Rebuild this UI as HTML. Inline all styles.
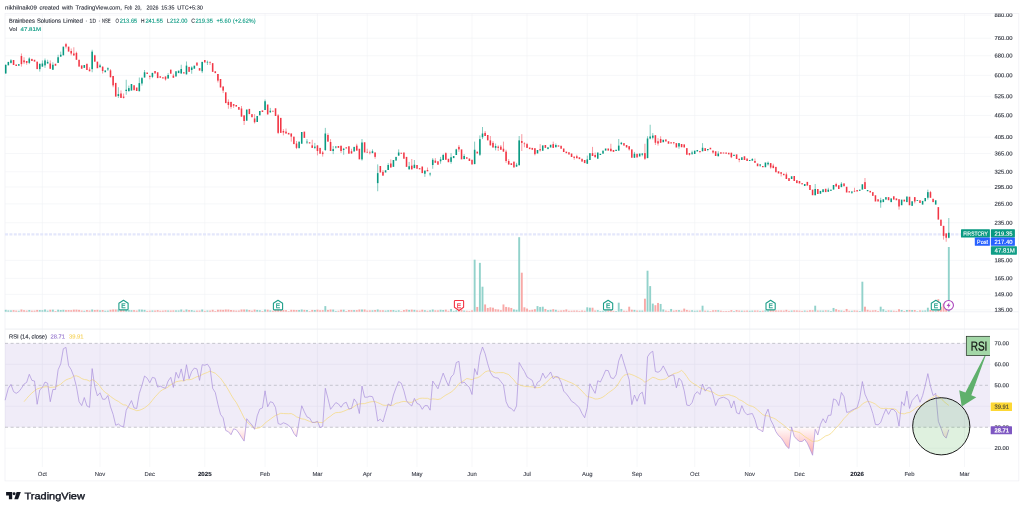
<!DOCTYPE html>
<html lang="en"><head><meta charset="utf-8"><title>Brainbees Solutions Limited chart</title>
<style>html,body{margin:0;padding:0;background:#fff;overflow:hidden}svg{display:block}</style></head>
<body>
<svg width="1024" height="511" viewBox="0 0 1024 511" font-family='"Liberation Sans", Arial, sans-serif' text-rendering="geometricPrecision">
<rect width="1024" height="511" fill="#fff"/>
<defs>
<clipPath id="cpPlot"><rect x="5.0" y="13.4" width="985.0" height="467.5"/></clipPath>
<clipPath id="cpFrame"><rect x="5.0" y="13.4" width="1013.8" height="467.5"/></clipPath>
<linearGradient id="pinkg" x1="0" y1="427.3" x2="0" y2="470" gradientUnits="userSpaceOnUse"><stop offset="0" stop-color="#ff5252" stop-opacity="0.02"/><stop offset="1" stop-color="#ff5252" stop-opacity="0.75"/></linearGradient>
</defs>
<text x="5.00" y="9.40" font-size="5.8" fill="#2a2e39" stroke="#2a2e39" stroke-width="0.12" textLength="31.90" lengthAdjust="spacingAndGlyphs" transform="rotate(0.04 5.00 9.40)">nikhilnaik09</text>
<text x="39.40" y="9.40" font-size="5.8" fill="#2a2e39" stroke="#2a2e39" stroke-width="0.12" textLength="20.00" lengthAdjust="spacingAndGlyphs" transform="rotate(0.04 39.40 9.40)">created</text>
<text x="62.10" y="9.40" font-size="5.8" fill="#2a2e39" stroke="#2a2e39" stroke-width="0.12" textLength="10.80" lengthAdjust="spacingAndGlyphs" transform="rotate(0.04 62.10 9.40)">with</text>
<text x="75.60" y="9.40" font-size="5.8" fill="#2a2e39" stroke="#2a2e39" stroke-width="0.12" textLength="46.30" lengthAdjust="spacingAndGlyphs" transform="rotate(0.04 75.60 9.40)">TradingView.com,</text>
<text x="124.50" y="9.40" font-size="5.8" fill="#2a2e39" stroke="#2a2e39" stroke-width="0.12" textLength="7.75" lengthAdjust="spacingAndGlyphs" transform="rotate(0.04 124.50 9.40)">Feb</text>
<text x="134.75" y="9.40" font-size="5.8" fill="#2a2e39" stroke="#2a2e39" stroke-width="0.12" textLength="6.85" lengthAdjust="spacingAndGlyphs" transform="rotate(0.04 134.75 9.40)">20,</text>
<text x="146.60" y="9.40" font-size="5.8" fill="#2a2e39" stroke="#2a2e39" stroke-width="0.12" textLength="11.90" lengthAdjust="spacingAndGlyphs" transform="rotate(0.04 146.60 9.40)">2026</text>
<text x="161.25" y="9.40" font-size="5.8" fill="#2a2e39" stroke="#2a2e39" stroke-width="0.12" textLength="13.25" lengthAdjust="spacingAndGlyphs" transform="rotate(0.04 161.25 9.40)">15:35</text>
<text x="177.25" y="9.40" font-size="5.8" fill="#2a2e39" stroke="#2a2e39" stroke-width="0.12" textLength="25.65" lengthAdjust="spacingAndGlyphs" transform="rotate(0.04 177.25 9.40)">UTC+5:30</text>
<rect x="5.0" y="13.4" width="1013.8" height="467.5" fill="#fff" stroke="#f0f1f5" stroke-width="0.8"/>
<line x1="42.39" y1="13.4" x2="42.39" y2="467" stroke="#f0f1f5" stroke-width="0.6"/>
<line x1="100.02" y1="13.4" x2="100.02" y2="467" stroke="#f0f1f5" stroke-width="0.6"/>
<line x1="149.80" y1="13.4" x2="149.80" y2="467" stroke="#f0f1f5" stroke-width="0.6"/>
<line x1="204.81" y1="13.4" x2="204.81" y2="467" stroke="#f0f1f5" stroke-width="0.6"/>
<line x1="265.06" y1="13.4" x2="265.06" y2="467" stroke="#f0f1f5" stroke-width="0.6"/>
<line x1="317.46" y1="13.4" x2="317.46" y2="467" stroke="#f0f1f5" stroke-width="0.6"/>
<line x1="367.23" y1="13.4" x2="367.23" y2="467" stroke="#f0f1f5" stroke-width="0.6"/>
<line x1="417.01" y1="13.4" x2="417.01" y2="467" stroke="#f0f1f5" stroke-width="0.6"/>
<line x1="472.02" y1="13.4" x2="472.02" y2="467" stroke="#f0f1f5" stroke-width="0.6"/>
<line x1="527.03" y1="13.4" x2="527.03" y2="467" stroke="#f0f1f5" stroke-width="0.6"/>
<line x1="587.29" y1="13.4" x2="587.29" y2="467" stroke="#f0f1f5" stroke-width="0.6"/>
<line x1="637.06" y1="13.4" x2="637.06" y2="467" stroke="#f0f1f5" stroke-width="0.6"/>
<line x1="694.70" y1="13.4" x2="694.70" y2="467" stroke="#f0f1f5" stroke-width="0.6"/>
<line x1="749.71" y1="13.4" x2="749.71" y2="467" stroke="#f0f1f5" stroke-width="0.6"/>
<line x1="799.48" y1="13.4" x2="799.48" y2="467" stroke="#f0f1f5" stroke-width="0.6"/>
<line x1="857.12" y1="13.4" x2="857.12" y2="467" stroke="#f0f1f5" stroke-width="0.6"/>
<line x1="909.51" y1="13.4" x2="909.51" y2="467" stroke="#f0f1f5" stroke-width="0.6"/>
<line x1="964.52" y1="13.4" x2="964.52" y2="467" stroke="#f0f1f5" stroke-width="0.6"/>
<line x1="5.0" y1="15.15" x2="991.0" y2="15.15" stroke="#f0f1f5" stroke-width="0.6"/>
<line x1="5.0" y1="38.20" x2="991.0" y2="38.20" stroke="#f0f1f5" stroke-width="0.6"/>
<line x1="5.0" y1="55.69" x2="991.0" y2="55.69" stroke="#f0f1f5" stroke-width="0.6"/>
<line x1="5.0" y1="75.37" x2="991.0" y2="75.37" stroke="#f0f1f5" stroke-width="0.6"/>
<line x1="5.0" y1="96.37" x2="991.0" y2="96.37" stroke="#f0f1f5" stroke-width="0.6"/>
<line x1="5.0" y1="115.45" x2="991.0" y2="115.45" stroke="#f0f1f5" stroke-width="0.6"/>
<line x1="5.0" y1="137.17" x2="991.0" y2="137.17" stroke="#f0f1f5" stroke-width="0.6"/>
<line x1="5.0" y1="153.52" x2="991.0" y2="153.52" stroke="#f0f1f5" stroke-width="0.6"/>
<line x1="5.0" y1="171.77" x2="991.0" y2="171.77" stroke="#f0f1f5" stroke-width="0.6"/>
<line x1="5.0" y1="187.00" x2="991.0" y2="187.00" stroke="#f0f1f5" stroke-width="0.6"/>
<line x1="5.0" y1="203.87" x2="991.0" y2="203.87" stroke="#f0f1f5" stroke-width="0.6"/>
<line x1="5.0" y1="222.76" x2="991.0" y2="222.76" stroke="#f0f1f5" stroke-width="0.6"/>
<line x1="5.0" y1="260.37" x2="991.0" y2="260.37" stroke="#f0f1f5" stroke-width="0.6"/>
<line x1="5.0" y1="278.36" x2="991.0" y2="278.36" stroke="#f0f1f5" stroke-width="0.6"/>
<line x1="5.0" y1="294.40" x2="991.0" y2="294.40" stroke="#f0f1f5" stroke-width="0.6"/>
<line x1="5.0" y1="309.92" x2="991.0" y2="309.92" stroke="#f0f1f5" stroke-width="0.6"/>
<line x1="5.0" y1="364.33" x2="991.0" y2="364.33" stroke="#f0f1f5" stroke-width="0.6"/>
<line x1="5.0" y1="406.28" x2="991.0" y2="406.28" stroke="#f0f1f5" stroke-width="0.6"/>
<line x1="5.0" y1="448.23" x2="991.0" y2="448.23" stroke="#f0f1f5" stroke-width="0.6"/>
<rect x="5.0" y="343.35" width="985.0" height="83.90" fill="#7e57c2" fill-opacity="0.115"/>
<line x1="5.0" y1="311.8" x2="1018.8" y2="311.8" stroke="#e9ebf0" stroke-width="0.7"/>
<line x1="5.0" y1="329.1" x2="1018.8" y2="329.1" stroke="#eceef2" stroke-width="1"/>
<line x1="5.0" y1="234.4" x2="961" y2="234.4" stroke="#e4e7fb" stroke-width="2.2" stroke-dasharray="3 1.4"/>
<rect x="4.76" y="309.81" width="1.9" height="1.89" fill="#92d2cb"/>
<rect x="7.38" y="310.36" width="1.9" height="1.34" fill="#92d2cb"/>
<rect x="10.00" y="310.41" width="1.9" height="1.29" fill="#92d2cb"/>
<rect x="12.62" y="310.15" width="1.9" height="1.55" fill="#f8a9a7"/>
<rect x="15.24" y="310.57" width="1.9" height="1.13" fill="#f8a9a7"/>
<rect x="17.86" y="310.79" width="1.9" height="0.91" fill="#92d2cb"/>
<rect x="20.48" y="309.50" width="1.9" height="2.20" fill="#f8a9a7"/>
<rect x="23.10" y="310.21" width="1.9" height="1.49" fill="#f8a9a7"/>
<rect x="25.72" y="310.60" width="1.9" height="1.10" fill="#f8a9a7"/>
<rect x="28.34" y="309.98" width="1.9" height="1.72" fill="#92d2cb"/>
<rect x="30.96" y="310.64" width="1.9" height="1.06" fill="#f8a9a7"/>
<rect x="33.58" y="310.61" width="1.9" height="1.09" fill="#f8a9a7"/>
<rect x="36.20" y="309.94" width="1.9" height="1.76" fill="#f8a9a7"/>
<rect x="38.82" y="310.05" width="1.9" height="1.65" fill="#92d2cb"/>
<rect x="41.44" y="310.19" width="1.9" height="1.51" fill="#92d2cb"/>
<rect x="44.06" y="309.50" width="1.9" height="2.20" fill="#92d2cb"/>
<rect x="46.68" y="310.63" width="1.9" height="1.07" fill="#92d2cb"/>
<rect x="49.30" y="309.76" width="1.9" height="1.94" fill="#f8a9a7"/>
<rect x="51.92" y="309.64" width="1.9" height="2.06" fill="#92d2cb"/>
<rect x="54.54" y="311.02" width="1.9" height="0.68" fill="#f8a9a7"/>
<rect x="57.16" y="309.72" width="1.9" height="1.98" fill="#92d2cb"/>
<rect x="59.78" y="310.03" width="1.9" height="1.67" fill="#92d2cb"/>
<rect x="62.40" y="309.82" width="1.9" height="1.88" fill="#92d2cb"/>
<rect x="65.02" y="310.15" width="1.9" height="1.55" fill="#f8a9a7"/>
<rect x="67.64" y="310.05" width="1.9" height="1.65" fill="#f8a9a7"/>
<rect x="70.26" y="310.18" width="1.9" height="1.52" fill="#f8a9a7"/>
<rect x="72.88" y="309.66" width="1.9" height="2.04" fill="#f8a9a7"/>
<rect x="75.50" y="309.64" width="1.9" height="2.06" fill="#f8a9a7"/>
<rect x="78.12" y="309.88" width="1.9" height="1.82" fill="#f8a9a7"/>
<rect x="80.74" y="310.55" width="1.9" height="1.15" fill="#f8a9a7"/>
<rect x="83.35" y="310.78" width="1.9" height="0.92" fill="#92d2cb"/>
<rect x="85.97" y="310.08" width="1.9" height="1.62" fill="#f8a9a7"/>
<rect x="88.59" y="310.51" width="1.9" height="1.19" fill="#f8a9a7"/>
<rect x="91.21" y="309.50" width="1.9" height="2.20" fill="#92d2cb"/>
<rect x="93.83" y="310.05" width="1.9" height="1.65" fill="#f8a9a7"/>
<rect x="96.45" y="309.83" width="1.9" height="1.87" fill="#f8a9a7"/>
<rect x="99.07" y="310.37" width="1.9" height="1.33" fill="#92d2cb"/>
<rect x="101.69" y="310.08" width="1.9" height="1.62" fill="#f8a9a7"/>
<rect x="104.31" y="310.74" width="1.9" height="0.96" fill="#92d2cb"/>
<rect x="106.93" y="310.60" width="1.9" height="1.10" fill="#92d2cb"/>
<rect x="109.55" y="309.80" width="1.9" height="1.90" fill="#f8a9a7"/>
<rect x="112.17" y="309.50" width="1.9" height="2.20" fill="#f8a9a7"/>
<rect x="114.79" y="309.50" width="1.9" height="2.20" fill="#f8a9a7"/>
<rect x="117.41" y="309.50" width="1.9" height="2.20" fill="#92d2cb"/>
<rect x="120.03" y="309.90" width="1.9" height="1.80" fill="#f8a9a7"/>
<rect x="122.65" y="310.15" width="1.9" height="1.55" fill="#f8a9a7"/>
<rect x="125.27" y="309.50" width="1.9" height="2.20" fill="#92d2cb"/>
<rect x="127.89" y="309.95" width="1.9" height="1.75" fill="#92d2cb"/>
<rect x="130.51" y="310.19" width="1.9" height="1.51" fill="#92d2cb"/>
<rect x="133.13" y="310.14" width="1.9" height="1.56" fill="#f8a9a7"/>
<rect x="135.75" y="310.56" width="1.9" height="1.14" fill="#f8a9a7"/>
<rect x="138.37" y="309.50" width="1.9" height="2.20" fill="#92d2cb"/>
<rect x="140.99" y="309.60" width="1.9" height="2.10" fill="#92d2cb"/>
<rect x="143.61" y="309.86" width="1.9" height="1.84" fill="#92d2cb"/>
<rect x="146.23" y="310.88" width="1.9" height="0.82" fill="#f8a9a7"/>
<rect x="148.85" y="310.65" width="1.9" height="1.05" fill="#f8a9a7"/>
<rect x="151.47" y="310.46" width="1.9" height="1.24" fill="#92d2cb"/>
<rect x="154.09" y="310.56" width="1.9" height="1.14" fill="#f8a9a7"/>
<rect x="156.71" y="310.12" width="1.9" height="1.58" fill="#f8a9a7"/>
<rect x="159.33" y="310.73" width="1.9" height="0.97" fill="#f8a9a7"/>
<rect x="161.95" y="310.62" width="1.9" height="1.08" fill="#f8a9a7"/>
<rect x="164.57" y="310.31" width="1.9" height="1.39" fill="#f8a9a7"/>
<rect x="167.19" y="310.46" width="1.9" height="1.24" fill="#92d2cb"/>
<rect x="169.81" y="310.52" width="1.9" height="1.18" fill="#f8a9a7"/>
<rect x="172.42" y="310.38" width="1.9" height="1.32" fill="#f8a9a7"/>
<rect x="175.04" y="310.38" width="1.9" height="1.32" fill="#92d2cb"/>
<rect x="177.66" y="310.42" width="1.9" height="1.28" fill="#92d2cb"/>
<rect x="180.28" y="309.50" width="1.9" height="2.20" fill="#92d2cb"/>
<rect x="182.90" y="310.68" width="1.9" height="1.02" fill="#f8a9a7"/>
<rect x="185.52" y="309.50" width="1.9" height="2.20" fill="#92d2cb"/>
<rect x="188.14" y="310.09" width="1.9" height="1.61" fill="#f8a9a7"/>
<rect x="190.76" y="310.08" width="1.9" height="1.62" fill="#92d2cb"/>
<rect x="193.38" y="310.68" width="1.9" height="1.02" fill="#92d2cb"/>
<rect x="196.00" y="310.60" width="1.9" height="1.10" fill="#f8a9a7"/>
<rect x="198.62" y="310.54" width="1.9" height="1.16" fill="#f8a9a7"/>
<rect x="201.24" y="309.50" width="1.9" height="2.20" fill="#92d2cb"/>
<rect x="203.86" y="310.87" width="1.9" height="0.83" fill="#f8a9a7"/>
<rect x="206.48" y="310.46" width="1.9" height="1.24" fill="#92d2cb"/>
<rect x="209.10" y="310.57" width="1.9" height="1.13" fill="#f8a9a7"/>
<rect x="211.72" y="309.78" width="1.9" height="1.92" fill="#f8a9a7"/>
<rect x="214.34" y="310.96" width="1.9" height="0.74" fill="#f8a9a7"/>
<rect x="216.96" y="309.76" width="1.9" height="1.94" fill="#f8a9a7"/>
<rect x="219.58" y="309.74" width="1.9" height="1.96" fill="#f8a9a7"/>
<rect x="222.20" y="309.86" width="1.9" height="1.84" fill="#f8a9a7"/>
<rect x="224.82" y="309.50" width="1.9" height="2.20" fill="#f8a9a7"/>
<rect x="227.44" y="309.56" width="1.9" height="2.14" fill="#f8a9a7"/>
<rect x="230.06" y="310.00" width="1.9" height="1.70" fill="#f8a9a7"/>
<rect x="232.68" y="310.32" width="1.9" height="1.38" fill="#f8a9a7"/>
<rect x="235.30" y="310.60" width="1.9" height="1.10" fill="#f8a9a7"/>
<rect x="237.92" y="310.54" width="1.9" height="1.16" fill="#f8a9a7"/>
<rect x="240.54" y="309.50" width="1.9" height="2.20" fill="#f8a9a7"/>
<rect x="243.16" y="309.50" width="1.9" height="2.20" fill="#f8a9a7"/>
<rect x="245.78" y="309.53" width="1.9" height="2.17" fill="#92d2cb"/>
<rect x="248.40" y="310.03" width="1.9" height="1.67" fill="#f8a9a7"/>
<rect x="251.02" y="310.70" width="1.9" height="1.00" fill="#f8a9a7"/>
<rect x="253.64" y="309.59" width="1.9" height="2.11" fill="#f8a9a7"/>
<rect x="256.26" y="309.95" width="1.9" height="1.75" fill="#92d2cb"/>
<rect x="258.87" y="310.26" width="1.9" height="1.44" fill="#92d2cb"/>
<rect x="261.49" y="311.01" width="1.9" height="0.69" fill="#f8a9a7"/>
<rect x="264.11" y="309.50" width="1.9" height="2.20" fill="#92d2cb"/>
<rect x="266.73" y="309.71" width="1.9" height="1.99" fill="#f8a9a7"/>
<rect x="269.35" y="310.35" width="1.9" height="1.35" fill="#92d2cb"/>
<rect x="271.97" y="310.76" width="1.9" height="0.94" fill="#f8a9a7"/>
<rect x="274.59" y="309.87" width="1.9" height="1.83" fill="#f8a9a7"/>
<rect x="277.21" y="309.50" width="1.9" height="2.20" fill="#f8a9a7"/>
<rect x="279.83" y="309.50" width="1.9" height="2.20" fill="#f8a9a7"/>
<rect x="282.45" y="309.90" width="1.9" height="1.80" fill="#f8a9a7"/>
<rect x="285.07" y="310.13" width="1.9" height="1.57" fill="#f8a9a7"/>
<rect x="287.69" y="311.09" width="1.9" height="0.61" fill="#f8a9a7"/>
<rect x="290.31" y="309.82" width="1.9" height="1.88" fill="#f8a9a7"/>
<rect x="292.93" y="309.90" width="1.9" height="1.80" fill="#f8a9a7"/>
<rect x="295.55" y="310.02" width="1.9" height="1.68" fill="#f8a9a7"/>
<rect x="298.17" y="309.99" width="1.9" height="1.71" fill="#92d2cb"/>
<rect x="300.79" y="309.50" width="1.9" height="2.20" fill="#92d2cb"/>
<rect x="303.41" y="309.89" width="1.9" height="1.81" fill="#f8a9a7"/>
<rect x="306.03" y="310.03" width="1.9" height="1.67" fill="#92d2cb"/>
<rect x="308.65" y="311.08" width="1.9" height="0.62" fill="#f8a9a7"/>
<rect x="311.27" y="309.92" width="1.9" height="1.78" fill="#f8a9a7"/>
<rect x="313.89" y="309.99" width="1.9" height="1.71" fill="#92d2cb"/>
<rect x="316.51" y="309.68" width="1.9" height="2.02" fill="#f8a9a7"/>
<rect x="319.13" y="310.29" width="1.9" height="1.41" fill="#f8a9a7"/>
<rect x="321.75" y="310.13" width="1.9" height="1.57" fill="#f8a9a7"/>
<rect x="324.37" y="306.10" width="1.9" height="5.60" fill="#92d2cb"/>
<rect x="326.99" y="309.92" width="1.9" height="1.78" fill="#f8a9a7"/>
<rect x="329.61" y="309.50" width="1.9" height="2.20" fill="#f8a9a7"/>
<rect x="332.23" y="309.58" width="1.9" height="2.12" fill="#92d2cb"/>
<rect x="334.85" y="310.93" width="1.9" height="0.77" fill="#92d2cb"/>
<rect x="337.47" y="310.76" width="1.9" height="0.94" fill="#f8a9a7"/>
<rect x="340.09" y="309.77" width="1.9" height="1.93" fill="#f8a9a7"/>
<rect x="342.71" y="309.71" width="1.9" height="1.99" fill="#92d2cb"/>
<rect x="345.32" y="311.00" width="1.9" height="0.70" fill="#f8a9a7"/>
<rect x="347.94" y="310.06" width="1.9" height="1.64" fill="#f8a9a7"/>
<rect x="350.56" y="310.11" width="1.9" height="1.59" fill="#f8a9a7"/>
<rect x="353.18" y="310.11" width="1.9" height="1.59" fill="#92d2cb"/>
<rect x="355.80" y="310.14" width="1.9" height="1.56" fill="#f8a9a7"/>
<rect x="358.42" y="309.50" width="1.9" height="2.20" fill="#f8a9a7"/>
<rect x="361.04" y="309.50" width="1.9" height="2.20" fill="#92d2cb"/>
<rect x="363.66" y="309.50" width="1.9" height="2.20" fill="#f8a9a7"/>
<rect x="366.28" y="310.56" width="1.9" height="1.14" fill="#f8a9a7"/>
<rect x="368.90" y="310.38" width="1.9" height="1.32" fill="#f8a9a7"/>
<rect x="371.52" y="310.31" width="1.9" height="1.39" fill="#92d2cb"/>
<rect x="374.14" y="310.05" width="1.9" height="1.65" fill="#f8a9a7"/>
<rect x="376.76" y="309.50" width="1.9" height="2.20" fill="#92d2cb"/>
<rect x="379.38" y="310.29" width="1.9" height="1.41" fill="#f8a9a7"/>
<rect x="382.00" y="310.30" width="1.9" height="1.40" fill="#f8a9a7"/>
<rect x="384.62" y="310.55" width="1.9" height="1.15" fill="#92d2cb"/>
<rect x="387.24" y="310.23" width="1.9" height="1.47" fill="#92d2cb"/>
<rect x="389.86" y="310.05" width="1.9" height="1.65" fill="#f8a9a7"/>
<rect x="392.48" y="310.05" width="1.9" height="1.65" fill="#92d2cb"/>
<rect x="395.10" y="310.72" width="1.9" height="0.98" fill="#92d2cb"/>
<rect x="397.72" y="310.27" width="1.9" height="1.43" fill="#92d2cb"/>
<rect x="400.34" y="311.18" width="1.9" height="0.52" fill="#f8a9a7"/>
<rect x="402.96" y="310.06" width="1.9" height="1.64" fill="#f8a9a7"/>
<rect x="405.58" y="309.50" width="1.9" height="2.20" fill="#f8a9a7"/>
<rect x="408.20" y="309.92" width="1.9" height="1.78" fill="#92d2cb"/>
<rect x="410.82" y="309.62" width="1.9" height="2.08" fill="#f8a9a7"/>
<rect x="413.44" y="309.87" width="1.9" height="1.83" fill="#92d2cb"/>
<rect x="416.06" y="310.43" width="1.9" height="1.27" fill="#f8a9a7"/>
<rect x="418.68" y="310.63" width="1.9" height="1.07" fill="#f8a9a7"/>
<rect x="421.30" y="309.74" width="1.9" height="1.96" fill="#f8a9a7"/>
<rect x="423.92" y="310.22" width="1.9" height="1.48" fill="#92d2cb"/>
<rect x="426.54" y="310.74" width="1.9" height="0.96" fill="#f8a9a7"/>
<rect x="429.16" y="310.29" width="1.9" height="1.41" fill="#92d2cb"/>
<rect x="431.78" y="309.50" width="1.9" height="2.20" fill="#92d2cb"/>
<rect x="434.39" y="310.36" width="1.9" height="1.34" fill="#f8a9a7"/>
<rect x="437.01" y="310.37" width="1.9" height="1.33" fill="#f8a9a7"/>
<rect x="439.63" y="309.77" width="1.9" height="1.93" fill="#92d2cb"/>
<rect x="442.25" y="310.01" width="1.9" height="1.69" fill="#92d2cb"/>
<rect x="444.87" y="309.67" width="1.9" height="2.03" fill="#f8a9a7"/>
<rect x="447.49" y="310.78" width="1.9" height="0.92" fill="#f8a9a7"/>
<rect x="450.11" y="308.95" width="1.9" height="2.75" fill="#92d2cb"/>
<rect x="452.73" y="310.86" width="1.9" height="0.84" fill="#92d2cb"/>
<rect x="455.35" y="310.20" width="1.9" height="1.50" fill="#92d2cb"/>
<rect x="457.97" y="310.18" width="1.9" height="1.52" fill="#f8a9a7"/>
<rect x="460.59" y="309.50" width="1.9" height="2.20" fill="#f8a9a7"/>
<rect x="463.21" y="310.53" width="1.9" height="1.17" fill="#92d2cb"/>
<rect x="465.83" y="310.74" width="1.9" height="0.96" fill="#f8a9a7"/>
<rect x="468.45" y="310.91" width="1.9" height="0.79" fill="#f8a9a7"/>
<rect x="471.07" y="310.39" width="1.9" height="1.31" fill="#f8a9a7"/>
<rect x="473.69" y="259.70" width="1.9" height="52.00" fill="#92d2cb"/>
<rect x="476.31" y="306.95" width="1.9" height="4.75" fill="#f8a9a7"/>
<rect x="478.93" y="262.85" width="1.9" height="48.85" fill="#92d2cb"/>
<rect x="481.55" y="286.70" width="1.9" height="25.00" fill="#92d2cb"/>
<rect x="484.17" y="304.45" width="1.9" height="7.25" fill="#f8a9a7"/>
<rect x="486.79" y="307.95" width="1.9" height="3.75" fill="#f8a9a7"/>
<rect x="489.41" y="307.30" width="1.9" height="4.40" fill="#f8a9a7"/>
<rect x="492.03" y="307.70" width="1.9" height="4.00" fill="#f8a9a7"/>
<rect x="494.65" y="309.20" width="1.9" height="2.50" fill="#f8a9a7"/>
<rect x="497.27" y="309.45" width="1.9" height="2.25" fill="#f8a9a7"/>
<rect x="499.89" y="310.20" width="1.9" height="1.50" fill="#f8a9a7"/>
<rect x="502.51" y="304.45" width="1.9" height="7.25" fill="#f8a9a7"/>
<rect x="505.13" y="306.95" width="1.9" height="4.75" fill="#f8a9a7"/>
<rect x="507.75" y="307.30" width="1.9" height="4.40" fill="#f8a9a7"/>
<rect x="510.37" y="307.95" width="1.9" height="3.75" fill="#f8a9a7"/>
<rect x="512.99" y="309.45" width="1.9" height="2.25" fill="#92d2cb"/>
<rect x="515.61" y="309.80" width="1.9" height="1.90" fill="#92d2cb"/>
<rect x="518.23" y="237.20" width="1.9" height="74.50" fill="#92d2cb"/>
<rect x="520.84" y="272.70" width="1.9" height="39.00" fill="#f8a9a7"/>
<rect x="523.46" y="307.30" width="1.9" height="4.40" fill="#f8a9a7"/>
<rect x="526.08" y="308.60" width="1.9" height="3.10" fill="#f8a9a7"/>
<rect x="528.70" y="310.20" width="1.9" height="1.50" fill="#f8a9a7"/>
<rect x="531.32" y="309.80" width="1.9" height="1.90" fill="#f8a9a7"/>
<rect x="533.94" y="309.20" width="1.9" height="2.50" fill="#f8a9a7"/>
<rect x="536.56" y="306.10" width="1.9" height="5.60" fill="#92d2cb"/>
<rect x="539.18" y="306.95" width="1.9" height="4.75" fill="#92d2cb"/>
<rect x="541.80" y="306.70" width="1.9" height="5.00" fill="#92d2cb"/>
<rect x="544.42" y="308.95" width="1.9" height="2.75" fill="#f8a9a7"/>
<rect x="547.04" y="310.20" width="1.9" height="1.50" fill="#92d2cb"/>
<rect x="549.66" y="309.80" width="1.9" height="1.90" fill="#92d2cb"/>
<rect x="552.28" y="309.20" width="1.9" height="2.50" fill="#f8a9a7"/>
<rect x="554.90" y="309.80" width="1.9" height="1.90" fill="#92d2cb"/>
<rect x="557.52" y="310.70" width="1.9" height="1.00" fill="#f8a9a7"/>
<rect x="560.14" y="310.45" width="1.9" height="1.25" fill="#f8a9a7"/>
<rect x="562.76" y="310.20" width="1.9" height="1.50" fill="#f8a9a7"/>
<rect x="565.38" y="309.45" width="1.9" height="2.25" fill="#f8a9a7"/>
<rect x="568.00" y="310.76" width="1.9" height="0.94" fill="#f8a9a7"/>
<rect x="570.62" y="310.69" width="1.9" height="1.01" fill="#f8a9a7"/>
<rect x="573.24" y="310.56" width="1.9" height="1.14" fill="#f8a9a7"/>
<rect x="575.86" y="310.50" width="1.9" height="1.20" fill="#f8a9a7"/>
<rect x="578.48" y="310.88" width="1.9" height="0.82" fill="#f8a9a7"/>
<rect x="581.10" y="310.48" width="1.9" height="1.22" fill="#f8a9a7"/>
<rect x="583.72" y="310.76" width="1.9" height="0.94" fill="#f8a9a7"/>
<rect x="586.34" y="307.30" width="1.9" height="4.40" fill="#92d2cb"/>
<rect x="588.96" y="307.70" width="1.9" height="4.00" fill="#92d2cb"/>
<rect x="591.58" y="307.70" width="1.9" height="4.00" fill="#f8a9a7"/>
<rect x="594.20" y="310.48" width="1.9" height="1.22" fill="#f8a9a7"/>
<rect x="596.82" y="310.16" width="1.9" height="1.54" fill="#92d2cb"/>
<rect x="599.44" y="310.94" width="1.9" height="0.76" fill="#92d2cb"/>
<rect x="602.06" y="310.74" width="1.9" height="0.96" fill="#92d2cb"/>
<rect x="604.68" y="310.50" width="1.9" height="1.20" fill="#92d2cb"/>
<rect x="607.29" y="310.55" width="1.9" height="1.15" fill="#f8a9a7"/>
<rect x="609.91" y="310.09" width="1.9" height="1.61" fill="#f8a9a7"/>
<rect x="612.53" y="310.85" width="1.9" height="0.85" fill="#f8a9a7"/>
<rect x="615.15" y="311.02" width="1.9" height="0.68" fill="#92d2cb"/>
<rect x="617.77" y="302.70" width="1.9" height="9.00" fill="#92d2cb"/>
<rect x="620.39" y="308.95" width="1.9" height="2.75" fill="#92d2cb"/>
<rect x="623.01" y="310.70" width="1.9" height="1.00" fill="#f8a9a7"/>
<rect x="625.63" y="310.80" width="1.9" height="0.90" fill="#f8a9a7"/>
<rect x="628.25" y="306.70" width="1.9" height="5.00" fill="#f8a9a7"/>
<rect x="630.87" y="309.73" width="1.9" height="1.97" fill="#f8a9a7"/>
<rect x="633.49" y="309.90" width="1.9" height="1.80" fill="#92d2cb"/>
<rect x="636.11" y="310.54" width="1.9" height="1.16" fill="#f8a9a7"/>
<rect x="638.73" y="310.51" width="1.9" height="1.19" fill="#92d2cb"/>
<rect x="641.35" y="310.52" width="1.9" height="1.18" fill="#92d2cb"/>
<rect x="643.97" y="298.70" width="1.9" height="13.00" fill="#f8a9a7"/>
<rect x="646.59" y="270.70" width="1.9" height="41.00" fill="#92d2cb"/>
<rect x="649.21" y="286.10" width="1.9" height="25.60" fill="#92d2cb"/>
<rect x="651.83" y="303.60" width="1.9" height="8.10" fill="#92d2cb"/>
<rect x="654.45" y="305.20" width="1.9" height="6.50" fill="#f8a9a7"/>
<rect x="657.07" y="302.95" width="1.9" height="8.75" fill="#f8a9a7"/>
<rect x="659.69" y="303.95" width="1.9" height="7.75" fill="#92d2cb"/>
<rect x="662.31" y="309.45" width="1.9" height="2.25" fill="#92d2cb"/>
<rect x="664.93" y="310.60" width="1.9" height="1.10" fill="#f8a9a7"/>
<rect x="667.55" y="310.92" width="1.9" height="0.78" fill="#f8a9a7"/>
<rect x="670.17" y="308.95" width="1.9" height="2.75" fill="#92d2cb"/>
<rect x="672.79" y="310.60" width="1.9" height="1.10" fill="#f8a9a7"/>
<rect x="675.41" y="310.13" width="1.9" height="1.57" fill="#f8a9a7"/>
<rect x="678.03" y="310.12" width="1.9" height="1.58" fill="#92d2cb"/>
<rect x="680.65" y="310.67" width="1.9" height="1.03" fill="#f8a9a7"/>
<rect x="683.27" y="308.60" width="1.9" height="3.10" fill="#f8a9a7"/>
<rect x="685.89" y="309.92" width="1.9" height="1.78" fill="#f8a9a7"/>
<rect x="688.51" y="310.56" width="1.9" height="1.14" fill="#f8a9a7"/>
<rect x="691.13" y="310.29" width="1.9" height="1.41" fill="#92d2cb"/>
<rect x="693.75" y="310.73" width="1.9" height="0.97" fill="#92d2cb"/>
<rect x="696.36" y="310.57" width="1.9" height="1.13" fill="#92d2cb"/>
<rect x="698.98" y="310.48" width="1.9" height="1.22" fill="#f8a9a7"/>
<rect x="701.60" y="305.70" width="1.9" height="6.00" fill="#92d2cb"/>
<rect x="704.22" y="310.66" width="1.9" height="1.04" fill="#f8a9a7"/>
<rect x="706.84" y="310.66" width="1.9" height="1.04" fill="#92d2cb"/>
<rect x="709.46" y="311.07" width="1.9" height="0.63" fill="#f8a9a7"/>
<rect x="712.08" y="310.31" width="1.9" height="1.39" fill="#f8a9a7"/>
<rect x="714.70" y="310.14" width="1.9" height="1.56" fill="#f8a9a7"/>
<rect x="717.32" y="310.20" width="1.9" height="1.50" fill="#92d2cb"/>
<rect x="719.94" y="310.69" width="1.9" height="1.01" fill="#f8a9a7"/>
<rect x="722.56" y="311.09" width="1.9" height="0.61" fill="#f8a9a7"/>
<rect x="725.18" y="310.98" width="1.9" height="0.72" fill="#f8a9a7"/>
<rect x="727.80" y="310.95" width="1.9" height="0.75" fill="#f8a9a7"/>
<rect x="730.42" y="310.16" width="1.9" height="1.54" fill="#f8a9a7"/>
<rect x="733.04" y="311.10" width="1.9" height="0.60" fill="#92d2cb"/>
<rect x="735.66" y="310.12" width="1.9" height="1.58" fill="#f8a9a7"/>
<rect x="738.28" y="310.54" width="1.9" height="1.16" fill="#f8a9a7"/>
<rect x="740.90" y="310.67" width="1.9" height="1.03" fill="#92d2cb"/>
<rect x="743.52" y="310.69" width="1.9" height="1.01" fill="#f8a9a7"/>
<rect x="746.14" y="310.57" width="1.9" height="1.13" fill="#f8a9a7"/>
<rect x="748.76" y="310.74" width="1.9" height="0.96" fill="#92d2cb"/>
<rect x="751.38" y="310.60" width="1.9" height="1.10" fill="#92d2cb"/>
<rect x="754.00" y="310.54" width="1.9" height="1.16" fill="#f8a9a7"/>
<rect x="756.62" y="310.48" width="1.9" height="1.22" fill="#f8a9a7"/>
<rect x="759.24" y="310.87" width="1.9" height="0.83" fill="#92d2cb"/>
<rect x="761.86" y="310.69" width="1.9" height="1.01" fill="#f8a9a7"/>
<rect x="764.48" y="310.27" width="1.9" height="1.43" fill="#92d2cb"/>
<rect x="767.10" y="310.53" width="1.9" height="1.17" fill="#92d2cb"/>
<rect x="769.72" y="310.17" width="1.9" height="1.53" fill="#f8a9a7"/>
<rect x="772.34" y="310.30" width="1.9" height="1.40" fill="#f8a9a7"/>
<rect x="774.96" y="310.35" width="1.9" height="1.35" fill="#f8a9a7"/>
<rect x="777.58" y="310.52" width="1.9" height="1.18" fill="#f8a9a7"/>
<rect x="780.20" y="310.44" width="1.9" height="1.26" fill="#f8a9a7"/>
<rect x="782.81" y="310.62" width="1.9" height="1.08" fill="#f8a9a7"/>
<rect x="785.43" y="309.85" width="1.9" height="1.85" fill="#f8a9a7"/>
<rect x="788.05" y="310.84" width="1.9" height="0.86" fill="#f8a9a7"/>
<rect x="790.67" y="310.55" width="1.9" height="1.15" fill="#92d2cb"/>
<rect x="793.29" y="310.38" width="1.9" height="1.32" fill="#f8a9a7"/>
<rect x="795.91" y="310.48" width="1.9" height="1.22" fill="#f8a9a7"/>
<rect x="798.53" y="310.65" width="1.9" height="1.05" fill="#f8a9a7"/>
<rect x="801.15" y="310.90" width="1.9" height="0.80" fill="#f8a9a7"/>
<rect x="803.77" y="310.54" width="1.9" height="1.16" fill="#92d2cb"/>
<rect x="806.39" y="310.72" width="1.9" height="0.98" fill="#f8a9a7"/>
<rect x="809.01" y="310.24" width="1.9" height="1.46" fill="#f8a9a7"/>
<rect x="811.63" y="310.27" width="1.9" height="1.43" fill="#f8a9a7"/>
<rect x="814.25" y="305.70" width="1.9" height="6.00" fill="#92d2cb"/>
<rect x="816.87" y="310.53" width="1.9" height="1.17" fill="#f8a9a7"/>
<rect x="819.49" y="310.48" width="1.9" height="1.22" fill="#92d2cb"/>
<rect x="822.11" y="310.58" width="1.9" height="1.12" fill="#92d2cb"/>
<rect x="824.73" y="310.32" width="1.9" height="1.38" fill="#f8a9a7"/>
<rect x="827.35" y="310.38" width="1.9" height="1.32" fill="#92d2cb"/>
<rect x="829.97" y="310.96" width="1.9" height="0.74" fill="#92d2cb"/>
<rect x="832.59" y="307.95" width="1.9" height="3.75" fill="#92d2cb"/>
<rect x="835.21" y="309.20" width="1.9" height="2.50" fill="#f8a9a7"/>
<rect x="837.83" y="310.21" width="1.9" height="1.49" fill="#f8a9a7"/>
<rect x="840.45" y="310.49" width="1.9" height="1.21" fill="#92d2cb"/>
<rect x="843.07" y="310.86" width="1.9" height="0.84" fill="#f8a9a7"/>
<rect x="845.69" y="308.95" width="1.9" height="2.75" fill="#f8a9a7"/>
<rect x="848.31" y="310.75" width="1.9" height="0.95" fill="#f8a9a7"/>
<rect x="850.93" y="310.75" width="1.9" height="0.95" fill="#92d2cb"/>
<rect x="853.55" y="310.45" width="1.9" height="1.25" fill="#f8a9a7"/>
<rect x="856.17" y="310.63" width="1.9" height="1.07" fill="#f8a9a7"/>
<rect x="858.79" y="310.97" width="1.9" height="0.73" fill="#92d2cb"/>
<rect x="861.41" y="281.70" width="1.9" height="30.00" fill="#92d2cb"/>
<rect x="864.03" y="306.70" width="1.9" height="5.00" fill="#f8a9a7"/>
<rect x="866.65" y="309.80" width="1.9" height="1.90" fill="#f8a9a7"/>
<rect x="869.26" y="310.60" width="1.9" height="1.10" fill="#f8a9a7"/>
<rect x="871.88" y="310.40" width="1.9" height="1.30" fill="#f8a9a7"/>
<rect x="874.50" y="310.17" width="1.9" height="1.53" fill="#f8a9a7"/>
<rect x="877.12" y="310.96" width="1.9" height="0.74" fill="#f8a9a7"/>
<rect x="879.74" y="306.70" width="1.9" height="5.00" fill="#92d2cb"/>
<rect x="882.36" y="309.20" width="1.9" height="2.50" fill="#92d2cb"/>
<rect x="884.98" y="310.82" width="1.9" height="0.88" fill="#92d2cb"/>
<rect x="887.60" y="310.32" width="1.9" height="1.38" fill="#f8a9a7"/>
<rect x="890.22" y="310.53" width="1.9" height="1.17" fill="#92d2cb"/>
<rect x="892.84" y="310.72" width="1.9" height="0.98" fill="#f8a9a7"/>
<rect x="895.46" y="310.89" width="1.9" height="0.81" fill="#f8a9a7"/>
<rect x="898.08" y="309.20" width="1.9" height="2.50" fill="#f8a9a7"/>
<rect x="900.70" y="309.96" width="1.9" height="1.74" fill="#92d2cb"/>
<rect x="903.32" y="310.96" width="1.9" height="0.74" fill="#f8a9a7"/>
<rect x="905.94" y="310.02" width="1.9" height="1.68" fill="#92d2cb"/>
<rect x="908.56" y="309.92" width="1.9" height="1.78" fill="#f8a9a7"/>
<rect x="911.18" y="310.08" width="1.9" height="1.62" fill="#92d2cb"/>
<rect x="913.80" y="310.06" width="1.9" height="1.64" fill="#f8a9a7"/>
<rect x="916.42" y="311.19" width="1.9" height="0.51" fill="#92d2cb"/>
<rect x="919.04" y="310.40" width="1.9" height="1.30" fill="#f8a9a7"/>
<rect x="921.66" y="310.55" width="1.9" height="1.15" fill="#92d2cb"/>
<rect x="924.28" y="310.43" width="1.9" height="1.27" fill="#92d2cb"/>
<rect x="926.90" y="307.70" width="1.9" height="4.00" fill="#92d2cb"/>
<rect x="929.52" y="309.96" width="1.9" height="1.74" fill="#f8a9a7"/>
<rect x="932.14" y="310.76" width="1.9" height="0.94" fill="#f8a9a7"/>
<rect x="934.76" y="310.59" width="1.9" height="1.11" fill="#92d2cb"/>
<rect x="937.38" y="299.20" width="1.9" height="12.50" fill="#f8a9a7"/>
<rect x="940.00" y="306.70" width="1.9" height="5.00" fill="#f8a9a7"/>
<rect x="942.62" y="303.70" width="1.9" height="8.00" fill="#f8a9a7"/>
<rect x="945.24" y="307.70" width="1.9" height="4.00" fill="#f8a9a7"/>
<rect x="947.86" y="247.00" width="1.9" height="64.70" fill="#92d2cb"/>
<line x1="5.71" y1="64.12" x2="5.71" y2="73.50" stroke="#089981" stroke-width="0.5"/>
<rect x="4.93" y="65.00" width="1.56" height="8.50" fill="#089981"/>
<rect x="7.55" y="61.88" width="1.56" height="3.50" fill="#089981"/>
<line x1="10.95" y1="59.12" x2="10.95" y2="63.50" stroke="#089981" stroke-width="0.5"/>
<rect x="10.17" y="60.38" width="1.56" height="2.50" fill="#089981"/>
<rect x="12.79" y="60.00" width="1.56" height="5.00" fill="#f23645"/>
<rect x="15.41" y="64.50" width="1.56" height="1.50" fill="#f23645"/>
<rect x="18.03" y="64.12" width="1.56" height="1.62" fill="#089981"/>
<line x1="21.43" y1="53.50" x2="21.43" y2="66.62" stroke="#f23645" stroke-width="0.5"/>
<rect x="20.65" y="56.00" width="1.56" height="8.12" fill="#f23645"/>
<line x1="24.05" y1="57.25" x2="24.05" y2="64.12" stroke="#f23645" stroke-width="0.5"/>
<rect x="23.27" y="60.38" width="1.56" height="1.88" fill="#f23645"/>
<line x1="26.67" y1="61.00" x2="26.67" y2="64.75" stroke="#f23645" stroke-width="0.5"/>
<rect x="25.89" y="61.00" width="1.56" height="1.88" fill="#f23645"/>
<line x1="29.29" y1="57.25" x2="29.29" y2="64.12" stroke="#089981" stroke-width="0.5"/>
<rect x="28.51" y="58.50" width="1.56" height="4.38" fill="#089981"/>
<rect x="31.13" y="58.88" width="1.56" height="2.12" fill="#f23645"/>
<rect x="33.75" y="59.75" width="1.56" height="1.88" fill="#f23645"/>
<rect x="36.37" y="61.62" width="1.56" height="7.50" fill="#f23645"/>
<line x1="39.77" y1="63.75" x2="39.77" y2="71.62" stroke="#089981" stroke-width="0.5"/>
<rect x="38.99" y="63.75" width="1.56" height="5.38" fill="#089981"/>
<line x1="42.39" y1="60.38" x2="42.39" y2="66.62" stroke="#089981" stroke-width="0.5"/>
<rect x="41.61" y="63.50" width="1.56" height="3.12" fill="#089981"/>
<line x1="45.01" y1="58.50" x2="45.01" y2="67.88" stroke="#089981" stroke-width="0.5"/>
<rect x="44.23" y="60.38" width="1.56" height="5.00" fill="#089981"/>
<line x1="47.63" y1="59.75" x2="47.63" y2="63.50" stroke="#089981" stroke-width="0.5"/>
<rect x="46.85" y="61.88" width="1.56" height="1.62" fill="#089981"/>
<line x1="50.25" y1="60.38" x2="50.25" y2="68.75" stroke="#f23645" stroke-width="0.5"/>
<rect x="49.47" y="63.50" width="1.56" height="5.25" fill="#f23645"/>
<line x1="52.87" y1="62.25" x2="52.87" y2="69.75" stroke="#089981" stroke-width="0.5"/>
<rect x="52.09" y="64.75" width="1.56" height="5.00" fill="#089981"/>
<rect x="54.71" y="63.75" width="1.56" height="2.00" fill="#f23645"/>
<line x1="58.11" y1="54.75" x2="58.11" y2="62.88" stroke="#089981" stroke-width="0.5"/>
<rect x="57.33" y="57.25" width="1.56" height="5.62" fill="#089981"/>
<line x1="60.73" y1="51.62" x2="60.73" y2="56.62" stroke="#089981" stroke-width="0.5"/>
<rect x="59.95" y="54.75" width="1.56" height="1.88" fill="#089981"/>
<rect x="62.57" y="46.62" width="1.56" height="8.75" fill="#089981"/>
<line x1="65.97" y1="42.88" x2="65.97" y2="48.50" stroke="#f23645" stroke-width="0.5"/>
<rect x="65.19" y="44.12" width="1.56" height="2.50" fill="#f23645"/>
<rect x="67.81" y="46.62" width="1.56" height="5.00" fill="#f23645"/>
<line x1="71.21" y1="48.50" x2="71.21" y2="55.38" stroke="#f23645" stroke-width="0.5"/>
<rect x="70.43" y="51.00" width="1.56" height="2.50" fill="#f23645"/>
<line x1="73.83" y1="47.25" x2="73.83" y2="56.00" stroke="#f23645" stroke-width="0.5"/>
<rect x="73.05" y="53.50" width="1.56" height="1.88" fill="#f23645"/>
<line x1="76.45" y1="51.62" x2="76.45" y2="59.75" stroke="#f23645" stroke-width="0.5"/>
<rect x="75.67" y="52.88" width="1.56" height="6.88" fill="#f23645"/>
<rect x="78.29" y="59.75" width="1.56" height="6.88" fill="#f23645"/>
<rect x="80.91" y="65.38" width="1.56" height="3.38" fill="#f23645"/>
<rect x="83.52" y="65.00" width="1.56" height="2.88" fill="#089981"/>
<rect x="86.14" y="63.75" width="1.56" height="6.25" fill="#f23645"/>
<line x1="89.54" y1="67.25" x2="89.54" y2="71.25" stroke="#f23645" stroke-width="0.5"/>
<rect x="88.76" y="69.50" width="1.56" height="1.75" fill="#f23645"/>
<line x1="92.16" y1="49.75" x2="92.16" y2="72.25" stroke="#089981" stroke-width="0.5"/>
<rect x="91.38" y="51.62" width="1.56" height="17.50" fill="#089981"/>
<line x1="94.78" y1="54.75" x2="94.78" y2="61.62" stroke="#f23645" stroke-width="0.5"/>
<rect x="94.00" y="55.38" width="1.56" height="6.25" fill="#f23645"/>
<rect x="96.62" y="61.62" width="1.56" height="6.62" fill="#f23645"/>
<line x1="100.02" y1="63.75" x2="100.02" y2="67.25" stroke="#089981" stroke-width="0.5"/>
<rect x="99.24" y="65.38" width="1.56" height="1.88" fill="#089981"/>
<line x1="102.64" y1="66.62" x2="102.64" y2="73.50" stroke="#f23645" stroke-width="0.5"/>
<rect x="101.86" y="66.62" width="1.56" height="4.38" fill="#f23645"/>
<rect x="104.48" y="70.38" width="1.56" height="1.88" fill="#089981"/>
<line x1="107.88" y1="67.25" x2="107.88" y2="71.00" stroke="#089981" stroke-width="0.5"/>
<rect x="107.10" y="68.25" width="1.56" height="1.25" fill="#089981"/>
<line x1="110.50" y1="69.12" x2="110.50" y2="77.25" stroke="#f23645" stroke-width="0.5"/>
<rect x="109.72" y="70.38" width="1.56" height="6.88" fill="#f23645"/>
<line x1="113.12" y1="76.00" x2="113.12" y2="87.25" stroke="#f23645" stroke-width="0.5"/>
<rect x="112.34" y="76.00" width="1.56" height="9.38" fill="#f23645"/>
<rect x="114.96" y="82.88" width="1.56" height="13.75" fill="#f23645"/>
<line x1="118.36" y1="87.25" x2="118.36" y2="97.88" stroke="#089981" stroke-width="0.5"/>
<rect x="117.58" y="94.12" width="1.56" height="1.88" fill="#089981"/>
<line x1="120.98" y1="90.38" x2="120.98" y2="97.88" stroke="#f23645" stroke-width="0.5"/>
<rect x="120.20" y="93.50" width="1.56" height="4.38" fill="#f23645"/>
<line x1="123.60" y1="93.50" x2="123.60" y2="98.50" stroke="#f23645" stroke-width="0.5"/>
<rect x="122.82" y="96.62" width="1.56" height="1.25" fill="#f23645"/>
<line x1="126.22" y1="79.75" x2="126.22" y2="94.75" stroke="#089981" stroke-width="0.5"/>
<rect x="125.44" y="89.75" width="1.56" height="1.25" fill="#089981"/>
<line x1="128.84" y1="85.62" x2="128.84" y2="91.25" stroke="#089981" stroke-width="0.5"/>
<rect x="128.06" y="88.12" width="1.56" height="3.12" fill="#089981"/>
<rect x="130.68" y="84.00" width="1.56" height="6.62" fill="#089981"/>
<rect x="133.30" y="85.25" width="1.56" height="5.00" fill="#f23645"/>
<rect x="135.92" y="87.50" width="1.56" height="3.50" fill="#f23645"/>
<line x1="139.32" y1="77.50" x2="139.32" y2="91.25" stroke="#089981" stroke-width="0.5"/>
<rect x="138.54" y="83.12" width="1.56" height="8.12" fill="#089981"/>
<line x1="141.94" y1="76.88" x2="141.94" y2="85.62" stroke="#089981" stroke-width="0.5"/>
<rect x="141.16" y="78.12" width="1.56" height="5.38" fill="#089981"/>
<line x1="144.56" y1="70.00" x2="144.56" y2="77.50" stroke="#089981" stroke-width="0.5"/>
<rect x="143.78" y="72.25" width="1.56" height="5.25" fill="#089981"/>
<rect x="146.40" y="72.50" width="1.56" height="1.50" fill="#f23645"/>
<line x1="149.80" y1="75.00" x2="149.80" y2="79.38" stroke="#f23645" stroke-width="0.5"/>
<rect x="149.02" y="76.00" width="1.56" height="0.88" fill="#f23645"/>
<line x1="152.42" y1="72.88" x2="152.42" y2="78.12" stroke="#089981" stroke-width="0.5"/>
<rect x="151.64" y="72.88" width="1.56" height="4.00" fill="#089981"/>
<rect x="154.26" y="71.00" width="1.56" height="2.50" fill="#f23645"/>
<rect x="156.88" y="72.25" width="1.56" height="5.88" fill="#f23645"/>
<rect x="159.50" y="76.25" width="1.56" height="1.50" fill="#f23645"/>
<rect x="162.12" y="77.25" width="1.56" height="1.25" fill="#f23645"/>
<line x1="165.52" y1="76.50" x2="165.52" y2="80.62" stroke="#f23645" stroke-width="0.5"/>
<rect x="164.74" y="76.50" width="1.56" height="2.88" fill="#f23645"/>
<line x1="168.14" y1="73.12" x2="168.14" y2="78.50" stroke="#089981" stroke-width="0.5"/>
<rect x="167.36" y="75.00" width="1.56" height="3.50" fill="#089981"/>
<rect x="169.98" y="69.62" width="1.56" height="4.12" fill="#f23645"/>
<line x1="173.37" y1="73.75" x2="173.37" y2="77.75" stroke="#f23645" stroke-width="0.5"/>
<rect x="172.59" y="75.62" width="1.56" height="2.12" fill="#f23645"/>
<rect x="175.21" y="71.25" width="1.56" height="5.25" fill="#089981"/>
<rect x="177.83" y="70.62" width="1.56" height="2.50" fill="#089981"/>
<line x1="181.23" y1="64.75" x2="181.23" y2="73.50" stroke="#089981" stroke-width="0.5"/>
<rect x="180.45" y="69.00" width="1.56" height="4.50" fill="#089981"/>
<rect x="183.07" y="72.25" width="1.56" height="1.25" fill="#f23645"/>
<line x1="186.47" y1="61.50" x2="186.47" y2="74.38" stroke="#089981" stroke-width="0.5"/>
<rect x="185.69" y="65.62" width="1.56" height="8.75" fill="#089981"/>
<rect x="188.31" y="66.88" width="1.56" height="5.00" fill="#f23645"/>
<line x1="191.71" y1="66.25" x2="191.71" y2="73.75" stroke="#089981" stroke-width="0.5"/>
<rect x="190.93" y="67.50" width="1.56" height="2.50" fill="#089981"/>
<rect x="193.55" y="65.62" width="1.56" height="3.12" fill="#089981"/>
<rect x="196.17" y="62.50" width="1.56" height="3.12" fill="#f23645"/>
<rect x="198.79" y="68.12" width="1.56" height="2.50" fill="#f23645"/>
<line x1="202.19" y1="61.88" x2="202.19" y2="73.12" stroke="#089981" stroke-width="0.5"/>
<rect x="201.41" y="61.88" width="1.56" height="9.38" fill="#089981"/>
<rect x="204.03" y="60.00" width="1.56" height="2.50" fill="#f23645"/>
<line x1="207.43" y1="60.62" x2="207.43" y2="65.00" stroke="#089981" stroke-width="0.5"/>
<rect x="206.65" y="61.88" width="1.56" height="0.62" fill="#089981"/>
<line x1="210.05" y1="61.25" x2="210.05" y2="65.00" stroke="#f23645" stroke-width="0.5"/>
<rect x="209.27" y="62.25" width="1.56" height="0.62" fill="#f23645"/>
<rect x="211.89" y="63.12" width="1.56" height="8.75" fill="#f23645"/>
<rect x="214.51" y="71.25" width="1.56" height="1.88" fill="#f23645"/>
<line x1="217.91" y1="74.00" x2="217.91" y2="82.50" stroke="#f23645" stroke-width="0.5"/>
<rect x="217.13" y="74.00" width="1.56" height="6.62" fill="#f23645"/>
<rect x="219.75" y="79.00" width="1.56" height="8.50" fill="#f23645"/>
<line x1="223.15" y1="86.50" x2="223.15" y2="93.12" stroke="#f23645" stroke-width="0.5"/>
<rect x="222.37" y="86.50" width="1.56" height="4.12" fill="#f23645"/>
<rect x="224.99" y="92.25" width="1.56" height="10.88" fill="#f23645"/>
<line x1="228.39" y1="99.38" x2="228.39" y2="108.75" stroke="#f23645" stroke-width="0.5"/>
<rect x="227.61" y="101.88" width="1.56" height="3.12" fill="#f23645"/>
<line x1="231.01" y1="101.88" x2="231.01" y2="108.75" stroke="#f23645" stroke-width="0.5"/>
<rect x="230.23" y="101.88" width="1.56" height="5.00" fill="#f23645"/>
<line x1="233.63" y1="104.12" x2="233.63" y2="107.88" stroke="#f23645" stroke-width="0.5"/>
<rect x="232.85" y="104.12" width="1.56" height="1.62" fill="#f23645"/>
<rect x="235.47" y="105.00" width="1.56" height="1.62" fill="#f23645"/>
<rect x="238.09" y="107.00" width="1.56" height="2.75" fill="#f23645"/>
<line x1="241.49" y1="106.00" x2="241.49" y2="116.62" stroke="#f23645" stroke-width="0.5"/>
<rect x="240.71" y="108.50" width="1.56" height="8.12" fill="#f23645"/>
<line x1="244.11" y1="115.38" x2="244.11" y2="125.00" stroke="#f23645" stroke-width="0.5"/>
<rect x="243.33" y="115.38" width="1.56" height="5.62" fill="#f23645"/>
<rect x="245.95" y="109.50" width="1.56" height="11.25" fill="#089981"/>
<rect x="248.57" y="108.88" width="1.56" height="5.25" fill="#f23645"/>
<rect x="251.19" y="114.12" width="1.56" height="3.12" fill="#f23645"/>
<line x1="254.59" y1="114.12" x2="254.59" y2="123.50" stroke="#f23645" stroke-width="0.5"/>
<rect x="253.81" y="118.50" width="1.56" height="3.75" fill="#f23645"/>
<rect x="256.43" y="116.00" width="1.56" height="6.00" fill="#089981"/>
<rect x="259.04" y="111.00" width="1.56" height="4.38" fill="#089981"/>
<rect x="261.66" y="110.38" width="1.56" height="1.62" fill="#f23645"/>
<line x1="265.06" y1="99.50" x2="265.06" y2="110.00" stroke="#089981" stroke-width="0.5"/>
<rect x="264.28" y="101.25" width="1.56" height="8.75" fill="#089981"/>
<rect x="266.90" y="104.50" width="1.56" height="10.00" fill="#f23645"/>
<line x1="270.30" y1="107.88" x2="270.30" y2="112.88" stroke="#089981" stroke-width="0.5"/>
<rect x="269.52" y="110.75" width="1.56" height="1.50" fill="#089981"/>
<rect x="272.14" y="110.75" width="1.56" height="0.88" fill="#f23645"/>
<rect x="274.76" y="108.25" width="1.56" height="7.75" fill="#f23645"/>
<line x1="278.16" y1="114.12" x2="278.16" y2="134.12" stroke="#f23645" stroke-width="0.5"/>
<rect x="277.38" y="115.38" width="1.56" height="17.50" fill="#f23645"/>
<rect x="280.00" y="117.88" width="1.56" height="15.00" fill="#f23645"/>
<line x1="283.40" y1="129.12" x2="283.40" y2="135.38" stroke="#f23645" stroke-width="0.5"/>
<rect x="282.62" y="131.00" width="1.56" height="1.50" fill="#f23645"/>
<line x1="286.02" y1="128.50" x2="286.02" y2="133.50" stroke="#f23645" stroke-width="0.5"/>
<rect x="285.24" y="131.62" width="1.56" height="1.88" fill="#f23645"/>
<rect x="287.86" y="132.88" width="1.56" height="1.62" fill="#f23645"/>
<line x1="291.26" y1="133.50" x2="291.26" y2="141.62" stroke="#f23645" stroke-width="0.5"/>
<rect x="290.48" y="133.50" width="1.56" height="3.12" fill="#f23645"/>
<rect x="293.10" y="136.62" width="1.56" height="7.50" fill="#f23645"/>
<line x1="296.50" y1="141.00" x2="296.50" y2="149.12" stroke="#f23645" stroke-width="0.5"/>
<rect x="295.72" y="143.50" width="1.56" height="4.38" fill="#f23645"/>
<rect x="298.34" y="141.62" width="1.56" height="6.62" fill="#089981"/>
<rect x="300.96" y="132.00" width="1.56" height="11.75" fill="#089981"/>
<rect x="303.58" y="131.62" width="1.56" height="6.25" fill="#f23645"/>
<line x1="306.98" y1="139.12" x2="306.98" y2="144.12" stroke="#089981" stroke-width="0.5"/>
<rect x="306.20" y="141.62" width="1.56" height="0.88" fill="#089981"/>
<rect x="308.82" y="142.25" width="1.56" height="1.25" fill="#f23645"/>
<line x1="312.22" y1="139.75" x2="312.22" y2="147.88" stroke="#f23645" stroke-width="0.5"/>
<rect x="311.44" y="145.38" width="1.56" height="2.50" fill="#f23645"/>
<line x1="314.84" y1="142.88" x2="314.84" y2="149.12" stroke="#089981" stroke-width="0.5"/>
<rect x="314.06" y="146.62" width="1.56" height="1.25" fill="#089981"/>
<line x1="317.46" y1="145.38" x2="317.46" y2="155.38" stroke="#f23645" stroke-width="0.5"/>
<rect x="316.68" y="145.38" width="1.56" height="5.62" fill="#f23645"/>
<rect x="319.30" y="147.88" width="1.56" height="5.88" fill="#f23645"/>
<line x1="322.70" y1="151.00" x2="322.70" y2="156.62" stroke="#f23645" stroke-width="0.5"/>
<rect x="321.92" y="152.50" width="1.56" height="1.62" fill="#f23645"/>
<line x1="325.32" y1="127.88" x2="325.32" y2="151.00" stroke="#089981" stroke-width="0.5"/>
<rect x="324.54" y="133.50" width="1.56" height="16.50" fill="#089981"/>
<line x1="327.94" y1="133.25" x2="327.94" y2="141.62" stroke="#f23645" stroke-width="0.5"/>
<rect x="327.16" y="135.00" width="1.56" height="6.62" fill="#f23645"/>
<line x1="330.56" y1="139.12" x2="330.56" y2="151.00" stroke="#f23645" stroke-width="0.5"/>
<rect x="329.78" y="142.00" width="1.56" height="9.00" fill="#f23645"/>
<line x1="333.18" y1="146.00" x2="333.18" y2="154.12" stroke="#089981" stroke-width="0.5"/>
<rect x="332.40" y="149.12" width="1.56" height="1.88" fill="#089981"/>
<line x1="335.80" y1="146.00" x2="335.80" y2="148.50" stroke="#089981" stroke-width="0.5"/>
<rect x="335.02" y="146.62" width="1.56" height="0.88" fill="#089981"/>
<rect x="337.64" y="146.00" width="1.56" height="1.88" fill="#f23645"/>
<line x1="341.04" y1="145.75" x2="341.04" y2="152.88" stroke="#f23645" stroke-width="0.5"/>
<rect x="340.26" y="145.75" width="1.56" height="5.25" fill="#f23645"/>
<line x1="343.66" y1="147.88" x2="343.66" y2="154.75" stroke="#089981" stroke-width="0.5"/>
<rect x="342.88" y="148.75" width="1.56" height="1.25" fill="#089981"/>
<rect x="345.50" y="147.25" width="1.56" height="1.25" fill="#f23645"/>
<rect x="348.11" y="146.25" width="1.56" height="7.50" fill="#f23645"/>
<line x1="351.51" y1="148.75" x2="351.51" y2="153.50" stroke="#f23645" stroke-width="0.5"/>
<rect x="350.73" y="151.25" width="1.56" height="2.25" fill="#f23645"/>
<rect x="353.35" y="146.88" width="1.56" height="4.62" fill="#089981"/>
<line x1="356.75" y1="143.75" x2="356.75" y2="150.62" stroke="#f23645" stroke-width="0.5"/>
<rect x="355.97" y="145.62" width="1.56" height="5.00" fill="#f23645"/>
<rect x="358.59" y="148.75" width="1.56" height="10.62" fill="#f23645"/>
<line x1="361.99" y1="139.00" x2="361.99" y2="160.62" stroke="#089981" stroke-width="0.5"/>
<rect x="361.21" y="142.50" width="1.56" height="16.88" fill="#089981"/>
<rect x="363.83" y="142.25" width="1.56" height="10.25" fill="#f23645"/>
<line x1="367.23" y1="148.75" x2="367.23" y2="153.12" stroke="#f23645" stroke-width="0.5"/>
<rect x="366.45" y="151.88" width="1.56" height="0.62" fill="#f23645"/>
<line x1="369.85" y1="150.62" x2="369.85" y2="154.38" stroke="#f23645" stroke-width="0.5"/>
<rect x="369.07" y="152.50" width="1.56" height="0.62" fill="#f23645"/>
<line x1="372.47" y1="149.38" x2="372.47" y2="153.12" stroke="#089981" stroke-width="0.5"/>
<rect x="371.69" y="151.25" width="1.56" height="1.88" fill="#089981"/>
<line x1="375.09" y1="152.50" x2="375.09" y2="158.75" stroke="#f23645" stroke-width="0.5"/>
<rect x="374.31" y="152.50" width="1.56" height="4.38" fill="#f23645"/>
<line x1="377.71" y1="164.38" x2="377.71" y2="191.25" stroke="#089981" stroke-width="0.5"/>
<rect x="376.93" y="173.12" width="1.56" height="10.00" fill="#089981"/>
<rect x="379.55" y="166.00" width="1.56" height="6.50" fill="#f23645"/>
<line x1="382.95" y1="170.00" x2="382.95" y2="175.62" stroke="#f23645" stroke-width="0.5"/>
<rect x="382.17" y="171.88" width="1.56" height="3.75" fill="#f23645"/>
<rect x="384.79" y="170.25" width="1.56" height="2.25" fill="#089981"/>
<line x1="388.19" y1="163.12" x2="388.19" y2="170.00" stroke="#089981" stroke-width="0.5"/>
<rect x="387.41" y="165.00" width="1.56" height="5.00" fill="#089981"/>
<line x1="390.81" y1="159.38" x2="390.81" y2="167.50" stroke="#f23645" stroke-width="0.5"/>
<rect x="390.03" y="163.50" width="1.56" height="4.00" fill="#f23645"/>
<rect x="392.65" y="160.00" width="1.56" height="6.88" fill="#089981"/>
<rect x="395.27" y="156.88" width="1.56" height="3.75" fill="#089981"/>
<line x1="398.67" y1="149.38" x2="398.67" y2="155.62" stroke="#089981" stroke-width="0.5"/>
<rect x="397.89" y="152.50" width="1.56" height="3.12" fill="#089981"/>
<rect x="400.51" y="152.75" width="1.56" height="1.00" fill="#f23645"/>
<rect x="403.13" y="152.50" width="1.56" height="6.25" fill="#f23645"/>
<rect x="405.75" y="156.88" width="1.56" height="10.00" fill="#f23645"/>
<line x1="409.15" y1="161.88" x2="409.15" y2="169.38" stroke="#089981" stroke-width="0.5"/>
<rect x="408.37" y="166.25" width="1.56" height="3.12" fill="#089981"/>
<line x1="411.77" y1="159.00" x2="411.77" y2="169.38" stroke="#f23645" stroke-width="0.5"/>
<rect x="410.99" y="165.62" width="1.56" height="3.75" fill="#f23645"/>
<line x1="414.39" y1="160.00" x2="414.39" y2="168.12" stroke="#089981" stroke-width="0.5"/>
<rect x="413.61" y="164.75" width="1.56" height="3.38" fill="#089981"/>
<rect x="416.23" y="165.00" width="1.56" height="3.75" fill="#f23645"/>
<rect x="418.85" y="168.12" width="1.56" height="1.25" fill="#f23645"/>
<rect x="421.47" y="166.50" width="1.56" height="6.62" fill="#f23645"/>
<line x1="424.87" y1="170.62" x2="424.87" y2="176.88" stroke="#089981" stroke-width="0.5"/>
<rect x="424.09" y="170.62" width="1.56" height="3.12" fill="#089981"/>
<line x1="427.49" y1="167.50" x2="427.49" y2="171.25" stroke="#f23645" stroke-width="0.5"/>
<rect x="426.71" y="170.00" width="1.56" height="1.25" fill="#f23645"/>
<line x1="430.11" y1="172.50" x2="430.11" y2="176.25" stroke="#089981" stroke-width="0.5"/>
<rect x="429.33" y="173.50" width="1.56" height="0.88" fill="#089981"/>
<line x1="432.73" y1="158.12" x2="432.73" y2="168.75" stroke="#089981" stroke-width="0.5"/>
<rect x="431.95" y="159.75" width="1.56" height="5.25" fill="#089981"/>
<line x1="435.34" y1="158.12" x2="435.34" y2="162.75" stroke="#f23645" stroke-width="0.5"/>
<rect x="434.56" y="160.62" width="1.56" height="2.12" fill="#f23645"/>
<rect x="437.18" y="161.25" width="1.56" height="3.50" fill="#f23645"/>
<line x1="440.58" y1="156.88" x2="440.58" y2="163.75" stroke="#089981" stroke-width="0.5"/>
<rect x="439.80" y="159.38" width="1.56" height="1.88" fill="#089981"/>
<line x1="443.20" y1="153.75" x2="443.20" y2="160.00" stroke="#089981" stroke-width="0.5"/>
<rect x="442.42" y="155.00" width="1.56" height="5.00" fill="#089981"/>
<line x1="445.82" y1="152.25" x2="445.82" y2="159.75" stroke="#f23645" stroke-width="0.5"/>
<rect x="445.04" y="153.12" width="1.56" height="6.62" fill="#f23645"/>
<rect x="447.66" y="158.75" width="1.56" height="3.50" fill="#f23645"/>
<line x1="451.06" y1="153.12" x2="451.06" y2="163.75" stroke="#089981" stroke-width="0.5"/>
<rect x="450.28" y="157.25" width="1.56" height="4.62" fill="#089981"/>
<rect x="452.90" y="156.00" width="1.56" height="2.12" fill="#089981"/>
<line x1="456.30" y1="148.75" x2="456.30" y2="155.00" stroke="#089981" stroke-width="0.5"/>
<rect x="455.52" y="149.38" width="1.56" height="5.62" fill="#089981"/>
<line x1="458.92" y1="145.00" x2="458.92" y2="151.88" stroke="#f23645" stroke-width="0.5"/>
<rect x="458.14" y="146.88" width="1.56" height="2.50" fill="#f23645"/>
<rect x="460.76" y="149.38" width="1.56" height="10.00" fill="#f23645"/>
<line x1="464.16" y1="154.12" x2="464.16" y2="159.12" stroke="#089981" stroke-width="0.5"/>
<rect x="463.38" y="156.00" width="1.56" height="3.12" fill="#089981"/>
<rect x="466.00" y="157.25" width="1.56" height="1.50" fill="#f23645"/>
<rect x="468.62" y="158.50" width="1.56" height="2.50" fill="#f23645"/>
<rect x="471.24" y="159.75" width="1.56" height="4.75" fill="#f23645"/>
<line x1="474.64" y1="141.62" x2="474.64" y2="164.12" stroke="#089981" stroke-width="0.5"/>
<rect x="473.86" y="149.75" width="1.56" height="14.38" fill="#089981"/>
<rect x="476.48" y="151.62" width="1.56" height="1.88" fill="#f23645"/>
<line x1="479.88" y1="135.38" x2="479.88" y2="156.00" stroke="#089981" stroke-width="0.5"/>
<rect x="479.10" y="139.12" width="1.56" height="15.62" fill="#089981"/>
<line x1="482.50" y1="127.00" x2="482.50" y2="139.12" stroke="#089981" stroke-width="0.5"/>
<rect x="481.72" y="133.50" width="1.56" height="3.75" fill="#089981"/>
<line x1="485.12" y1="131.00" x2="485.12" y2="136.00" stroke="#f23645" stroke-width="0.5"/>
<rect x="484.34" y="132.88" width="1.56" height="3.12" fill="#f23645"/>
<rect x="486.96" y="135.00" width="1.56" height="5.38" fill="#f23645"/>
<line x1="490.36" y1="136.00" x2="490.36" y2="145.38" stroke="#f23645" stroke-width="0.5"/>
<rect x="489.58" y="140.38" width="1.56" height="5.00" fill="#f23645"/>
<line x1="492.98" y1="141.00" x2="492.98" y2="147.50" stroke="#f23645" stroke-width="0.5"/>
<rect x="492.20" y="142.88" width="1.56" height="4.62" fill="#f23645"/>
<line x1="495.60" y1="143.50" x2="495.60" y2="150.38" stroke="#089981" stroke-width="0.5"/>
<rect x="494.82" y="146.00" width="1.56" height="1.88" fill="#089981"/>
<line x1="498.22" y1="145.38" x2="498.22" y2="151.00" stroke="#f23645" stroke-width="0.5"/>
<rect x="497.44" y="146.62" width="1.56" height="1.25" fill="#f23645"/>
<line x1="500.84" y1="145.00" x2="500.84" y2="149.75" stroke="#f23645" stroke-width="0.5"/>
<rect x="500.06" y="146.62" width="1.56" height="3.12" fill="#f23645"/>
<line x1="503.46" y1="141.62" x2="503.46" y2="151.62" stroke="#f23645" stroke-width="0.5"/>
<rect x="502.68" y="148.75" width="1.56" height="2.88" fill="#f23645"/>
<line x1="506.08" y1="149.75" x2="506.08" y2="162.88" stroke="#f23645" stroke-width="0.5"/>
<rect x="505.30" y="151.62" width="1.56" height="9.38" fill="#f23645"/>
<line x1="508.70" y1="159.12" x2="508.70" y2="164.50" stroke="#f23645" stroke-width="0.5"/>
<rect x="507.92" y="161.00" width="1.56" height="3.50" fill="#f23645"/>
<rect x="510.54" y="163.25" width="1.56" height="1.75" fill="#f23645"/>
<rect x="513.16" y="161.62" width="1.56" height="5.88" fill="#f23645"/>
<line x1="516.56" y1="162.88" x2="516.56" y2="166.62" stroke="#089981" stroke-width="0.5"/>
<rect x="515.78" y="164.75" width="1.56" height="1.88" fill="#089981"/>
<line x1="519.18" y1="136.00" x2="519.18" y2="166.00" stroke="#089981" stroke-width="0.5"/>
<rect x="518.40" y="140.38" width="1.56" height="24.62" fill="#089981"/>
<line x1="521.79" y1="134.12" x2="521.79" y2="151.00" stroke="#f23645" stroke-width="0.5"/>
<rect x="521.01" y="141.00" width="1.56" height="1.88" fill="#f23645"/>
<line x1="524.41" y1="142.25" x2="524.41" y2="147.25" stroke="#f23645" stroke-width="0.5"/>
<rect x="523.63" y="143.50" width="1.56" height="0.62" fill="#f23645"/>
<line x1="527.03" y1="142.88" x2="527.03" y2="147.88" stroke="#f23645" stroke-width="0.5"/>
<rect x="526.25" y="144.12" width="1.56" height="3.75" fill="#f23645"/>
<rect x="528.87" y="147.50" width="1.56" height="1.62" fill="#f23645"/>
<rect x="531.49" y="147.88" width="1.56" height="1.88" fill="#f23645"/>
<line x1="534.89" y1="148.25" x2="534.89" y2="155.38" stroke="#f23645" stroke-width="0.5"/>
<rect x="534.11" y="148.25" width="1.56" height="5.88" fill="#f23645"/>
<rect x="536.73" y="150.00" width="1.56" height="3.50" fill="#089981"/>
<line x1="540.13" y1="144.12" x2="540.13" y2="151.62" stroke="#f23645" stroke-width="0.5"/>
<rect x="539.35" y="149.12" width="1.56" height="1.25" fill="#f23645"/>
<rect x="541.97" y="145.38" width="1.56" height="5.38" fill="#089981"/>
<rect x="544.59" y="145.00" width="1.56" height="2.88" fill="#f23645"/>
<rect x="547.21" y="147.25" width="1.56" height="1.88" fill="#089981"/>
<rect x="549.83" y="144.75" width="1.56" height="2.75" fill="#089981"/>
<line x1="553.23" y1="141.62" x2="553.23" y2="147.88" stroke="#f23645" stroke-width="0.5"/>
<rect x="552.45" y="144.12" width="1.56" height="3.75" fill="#f23645"/>
<line x1="555.85" y1="143.50" x2="555.85" y2="147.25" stroke="#089981" stroke-width="0.5"/>
<rect x="555.07" y="145.00" width="1.56" height="2.25" fill="#089981"/>
<rect x="557.69" y="145.38" width="1.56" height="1.25" fill="#f23645"/>
<rect x="560.31" y="145.75" width="1.56" height="3.00" fill="#f23645"/>
<rect x="562.93" y="148.50" width="1.56" height="3.50" fill="#f23645"/>
<rect x="565.55" y="151.62" width="1.56" height="1.62" fill="#f23645"/>
<rect x="568.17" y="152.25" width="1.56" height="2.25" fill="#f23645"/>
<rect x="570.79" y="153.50" width="1.56" height="3.50" fill="#f23645"/>
<line x1="574.19" y1="156.62" x2="574.19" y2="159.75" stroke="#f23645" stroke-width="0.5"/>
<rect x="573.41" y="156.62" width="1.56" height="1.25" fill="#f23645"/>
<line x1="576.81" y1="154.75" x2="576.81" y2="158.25" stroke="#f23645" stroke-width="0.5"/>
<rect x="576.03" y="156.25" width="1.56" height="2.00" fill="#f23645"/>
<rect x="578.65" y="157.25" width="1.56" height="1.88" fill="#f23645"/>
<rect x="581.27" y="158.75" width="1.56" height="2.88" fill="#f23645"/>
<rect x="583.89" y="160.00" width="1.56" height="3.12" fill="#f23645"/>
<line x1="587.29" y1="155.62" x2="587.29" y2="163.75" stroke="#089981" stroke-width="0.5"/>
<rect x="586.51" y="159.38" width="1.56" height="4.38" fill="#089981"/>
<rect x="589.13" y="153.12" width="1.56" height="6.88" fill="#089981"/>
<line x1="592.53" y1="146.88" x2="592.53" y2="156.00" stroke="#f23645" stroke-width="0.5"/>
<rect x="591.75" y="153.12" width="1.56" height="2.88" fill="#f23645"/>
<line x1="595.15" y1="152.50" x2="595.15" y2="157.25" stroke="#f23645" stroke-width="0.5"/>
<rect x="594.37" y="155.00" width="1.56" height="2.25" fill="#f23645"/>
<rect x="596.99" y="152.50" width="1.56" height="6.25" fill="#089981"/>
<rect x="599.61" y="153.75" width="1.56" height="1.25" fill="#089981"/>
<rect x="602.23" y="150.62" width="1.56" height="3.12" fill="#089981"/>
<rect x="604.85" y="148.50" width="1.56" height="2.12" fill="#089981"/>
<rect x="607.47" y="148.50" width="1.56" height="2.12" fill="#f23645"/>
<line x1="610.86" y1="143.75" x2="610.86" y2="151.25" stroke="#f23645" stroke-width="0.5"/>
<rect x="610.08" y="148.75" width="1.56" height="2.50" fill="#f23645"/>
<rect x="612.70" y="150.00" width="1.56" height="1.88" fill="#f23645"/>
<rect x="615.32" y="149.75" width="1.56" height="1.25" fill="#089981"/>
<line x1="618.72" y1="139.00" x2="618.72" y2="150.62" stroke="#089981" stroke-width="0.5"/>
<rect x="617.94" y="145.62" width="1.56" height="5.00" fill="#089981"/>
<line x1="621.34" y1="141.88" x2="621.34" y2="145.00" stroke="#089981" stroke-width="0.5"/>
<rect x="620.56" y="142.75" width="1.56" height="1.25" fill="#089981"/>
<rect x="623.18" y="143.12" width="1.56" height="2.50" fill="#f23645"/>
<rect x="625.80" y="145.00" width="1.56" height="2.50" fill="#f23645"/>
<line x1="629.20" y1="146.25" x2="629.20" y2="150.62" stroke="#f23645" stroke-width="0.5"/>
<rect x="628.42" y="146.25" width="1.56" height="3.12" fill="#f23645"/>
<rect x="631.04" y="149.38" width="1.56" height="8.38" fill="#f23645"/>
<line x1="634.44" y1="151.88" x2="634.44" y2="157.75" stroke="#089981" stroke-width="0.5"/>
<rect x="633.66" y="153.75" width="1.56" height="4.00" fill="#089981"/>
<rect x="636.28" y="153.75" width="1.56" height="3.75" fill="#f23645"/>
<rect x="638.90" y="153.50" width="1.56" height="3.00" fill="#089981"/>
<line x1="642.30" y1="153.12" x2="642.30" y2="156.25" stroke="#089981" stroke-width="0.5"/>
<rect x="641.52" y="153.50" width="1.56" height="1.25" fill="#089981"/>
<line x1="644.92" y1="143.75" x2="644.92" y2="160.00" stroke="#f23645" stroke-width="0.5"/>
<rect x="644.14" y="153.12" width="1.56" height="5.62" fill="#f23645"/>
<line x1="647.54" y1="136.25" x2="647.54" y2="158.12" stroke="#089981" stroke-width="0.5"/>
<rect x="646.76" y="138.50" width="1.56" height="19.62" fill="#089981"/>
<line x1="650.16" y1="124.75" x2="650.16" y2="139.38" stroke="#089981" stroke-width="0.5"/>
<rect x="649.38" y="136.50" width="1.56" height="2.00" fill="#089981"/>
<line x1="652.78" y1="133.12" x2="652.78" y2="139.38" stroke="#089981" stroke-width="0.5"/>
<rect x="652.00" y="135.62" width="1.56" height="2.12" fill="#089981"/>
<line x1="655.40" y1="135.25" x2="655.40" y2="145.00" stroke="#f23645" stroke-width="0.5"/>
<rect x="654.62" y="135.25" width="1.56" height="7.50" fill="#f23645"/>
<line x1="658.02" y1="138.12" x2="658.02" y2="145.62" stroke="#f23645" stroke-width="0.5"/>
<rect x="657.24" y="141.25" width="1.56" height="2.25" fill="#f23645"/>
<line x1="660.64" y1="136.25" x2="660.64" y2="142.75" stroke="#f23645" stroke-width="0.5"/>
<rect x="659.86" y="139.00" width="1.56" height="3.75" fill="#f23645"/>
<rect x="662.48" y="139.75" width="1.56" height="2.50" fill="#089981"/>
<rect x="665.10" y="139.38" width="1.56" height="2.12" fill="#f23645"/>
<rect x="667.72" y="141.25" width="1.56" height="2.50" fill="#f23645"/>
<rect x="670.34" y="142.25" width="1.56" height="1.25" fill="#f23645"/>
<line x1="673.74" y1="142.25" x2="673.74" y2="144.38" stroke="#f23645" stroke-width="0.5"/>
<rect x="672.96" y="142.25" width="1.56" height="0.88" fill="#f23645"/>
<rect x="675.58" y="143.12" width="1.56" height="4.38" fill="#f23645"/>
<line x1="678.98" y1="143.12" x2="678.98" y2="148.75" stroke="#089981" stroke-width="0.5"/>
<rect x="678.20" y="143.12" width="1.56" height="3.38" fill="#089981"/>
<rect x="680.82" y="144.00" width="1.56" height="3.25" fill="#f23645"/>
<rect x="683.44" y="144.38" width="1.56" height="3.12" fill="#f23645"/>
<rect x="686.06" y="148.12" width="1.56" height="6.62" fill="#f23645"/>
<line x1="689.46" y1="153.12" x2="689.46" y2="155.62" stroke="#f23645" stroke-width="0.5"/>
<rect x="688.68" y="153.12" width="1.56" height="1.62" fill="#f23645"/>
<line x1="692.08" y1="150.62" x2="692.08" y2="155.00" stroke="#089981" stroke-width="0.5"/>
<rect x="691.30" y="152.50" width="1.56" height="1.25" fill="#089981"/>
<rect x="693.92" y="150.62" width="1.56" height="3.38" fill="#089981"/>
<rect x="696.53" y="150.00" width="1.56" height="1.50" fill="#089981"/>
<line x1="699.93" y1="151.00" x2="699.93" y2="153.12" stroke="#f23645" stroke-width="0.5"/>
<rect x="699.15" y="151.00" width="1.56" height="0.88" fill="#f23645"/>
<line x1="702.55" y1="143.12" x2="702.55" y2="151.25" stroke="#089981" stroke-width="0.5"/>
<rect x="701.77" y="147.75" width="1.56" height="3.50" fill="#089981"/>
<rect x="704.39" y="148.12" width="1.56" height="2.88" fill="#f23645"/>
<line x1="707.79" y1="149.00" x2="707.79" y2="151.25" stroke="#089981" stroke-width="0.5"/>
<rect x="707.01" y="149.00" width="1.56" height="1.00" fill="#089981"/>
<rect x="709.63" y="147.75" width="1.56" height="1.62" fill="#f23645"/>
<line x1="713.03" y1="150.62" x2="713.03" y2="153.75" stroke="#f23645" stroke-width="0.5"/>
<rect x="712.25" y="150.62" width="1.56" height="1.88" fill="#f23645"/>
<rect x="714.87" y="151.25" width="1.56" height="4.75" fill="#f23645"/>
<line x1="718.27" y1="151.25" x2="718.27" y2="156.25" stroke="#089981" stroke-width="0.5"/>
<rect x="717.49" y="153.50" width="1.56" height="2.75" fill="#089981"/>
<rect x="720.11" y="152.25" width="1.56" height="1.50" fill="#f23645"/>
<rect x="722.73" y="152.50" width="1.56" height="1.00" fill="#f23645"/>
<rect x="725.35" y="152.50" width="1.56" height="1.25" fill="#f23645"/>
<rect x="727.97" y="152.75" width="1.56" height="1.62" fill="#f23645"/>
<line x1="731.37" y1="152.75" x2="731.37" y2="158.12" stroke="#f23645" stroke-width="0.5"/>
<rect x="730.59" y="152.75" width="1.56" height="4.50" fill="#f23645"/>
<rect x="733.21" y="154.75" width="1.56" height="1.25" fill="#089981"/>
<rect x="735.83" y="154.38" width="1.56" height="4.62" fill="#f23645"/>
<line x1="739.23" y1="158.75" x2="739.23" y2="162.25" stroke="#f23645" stroke-width="0.5"/>
<rect x="738.45" y="158.75" width="1.56" height="1.25" fill="#f23645"/>
<rect x="741.07" y="157.25" width="1.56" height="2.75" fill="#089981"/>
<rect x="743.69" y="156.25" width="1.56" height="3.75" fill="#f23645"/>
<rect x="746.31" y="158.50" width="1.56" height="2.50" fill="#f23645"/>
<rect x="748.93" y="160.00" width="1.56" height="1.00" fill="#089981"/>
<line x1="752.33" y1="158.12" x2="752.33" y2="160.62" stroke="#089981" stroke-width="0.5"/>
<rect x="751.55" y="159.00" width="1.56" height="1.62" fill="#089981"/>
<line x1="754.95" y1="158.50" x2="754.95" y2="162.75" stroke="#f23645" stroke-width="0.5"/>
<rect x="754.17" y="161.00" width="1.56" height="1.75" fill="#f23645"/>
<rect x="756.79" y="163.50" width="1.56" height="2.75" fill="#f23645"/>
<line x1="760.19" y1="164.38" x2="760.19" y2="166.88" stroke="#089981" stroke-width="0.5"/>
<rect x="759.41" y="164.38" width="1.56" height="1.25" fill="#089981"/>
<rect x="762.03" y="166.00" width="1.56" height="1.25" fill="#f23645"/>
<rect x="764.65" y="162.50" width="1.56" height="4.75" fill="#089981"/>
<line x1="768.05" y1="161.50" x2="768.05" y2="165.62" stroke="#089981" stroke-width="0.5"/>
<rect x="767.27" y="162.75" width="1.56" height="1.62" fill="#089981"/>
<line x1="770.67" y1="163.12" x2="770.67" y2="168.75" stroke="#f23645" stroke-width="0.5"/>
<rect x="769.89" y="163.12" width="1.56" height="4.38" fill="#f23645"/>
<line x1="773.29" y1="163.75" x2="773.29" y2="168.12" stroke="#f23645" stroke-width="0.5"/>
<rect x="772.51" y="165.62" width="1.56" height="2.50" fill="#f23645"/>
<rect x="775.13" y="166.88" width="1.56" height="5.38" fill="#f23645"/>
<rect x="777.75" y="171.25" width="1.56" height="2.25" fill="#f23645"/>
<line x1="781.15" y1="172.25" x2="781.15" y2="176.50" stroke="#f23645" stroke-width="0.5"/>
<rect x="780.37" y="172.25" width="1.56" height="1.50" fill="#f23645"/>
<rect x="782.98" y="173.75" width="1.56" height="1.50" fill="#f23645"/>
<line x1="786.38" y1="172.50" x2="786.38" y2="179.00" stroke="#f23645" stroke-width="0.5"/>
<rect x="785.60" y="174.38" width="1.56" height="4.62" fill="#f23645"/>
<rect x="788.22" y="178.12" width="1.56" height="2.88" fill="#f23645"/>
<rect x="790.84" y="176.25" width="1.56" height="2.75" fill="#089981"/>
<rect x="793.46" y="176.00" width="1.56" height="5.00" fill="#f23645"/>
<rect x="796.08" y="180.25" width="1.56" height="2.88" fill="#f23645"/>
<rect x="798.70" y="181.00" width="1.56" height="2.50" fill="#f23645"/>
<rect x="801.32" y="183.12" width="1.56" height="1.25" fill="#f23645"/>
<rect x="803.94" y="184.00" width="1.56" height="2.00" fill="#089981"/>
<rect x="806.56" y="181.88" width="1.56" height="3.75" fill="#f23645"/>
<rect x="809.18" y="185.00" width="1.56" height="5.00" fill="#f23645"/>
<rect x="811.80" y="189.62" width="1.56" height="5.62" fill="#f23645"/>
<line x1="815.20" y1="184.00" x2="815.20" y2="195.25" stroke="#089981" stroke-width="0.5"/>
<rect x="814.42" y="189.00" width="1.56" height="6.25" fill="#089981"/>
<rect x="817.04" y="189.00" width="1.56" height="5.00" fill="#f23645"/>
<rect x="819.66" y="190.88" width="1.56" height="2.88" fill="#089981"/>
<rect x="822.28" y="189.25" width="1.56" height="2.88" fill="#089981"/>
<rect x="824.90" y="188.75" width="1.56" height="3.38" fill="#f23645"/>
<line x1="828.30" y1="187.75" x2="828.30" y2="191.75" stroke="#089981" stroke-width="0.5"/>
<rect x="827.52" y="189.62" width="1.56" height="2.12" fill="#089981"/>
<rect x="830.14" y="189.62" width="1.56" height="1.25" fill="#089981"/>
<rect x="832.76" y="185.00" width="1.56" height="4.62" fill="#089981"/>
<line x1="836.16" y1="182.75" x2="836.16" y2="186.50" stroke="#f23645" stroke-width="0.5"/>
<rect x="835.38" y="184.00" width="1.56" height="2.50" fill="#f23645"/>
<rect x="838.00" y="185.25" width="1.56" height="3.75" fill="#f23645"/>
<line x1="841.40" y1="182.12" x2="841.40" y2="187.12" stroke="#089981" stroke-width="0.5"/>
<rect x="840.62" y="183.75" width="1.56" height="3.38" fill="#089981"/>
<rect x="843.24" y="183.38" width="1.56" height="2.88" fill="#f23645"/>
<rect x="845.86" y="186.75" width="1.56" height="5.75" fill="#f23645"/>
<rect x="848.48" y="191.25" width="1.56" height="1.25" fill="#f23645"/>
<line x1="851.88" y1="191.50" x2="851.88" y2="194.00" stroke="#089981" stroke-width="0.5"/>
<rect x="851.10" y="191.50" width="1.56" height="1.25" fill="#089981"/>
<line x1="854.50" y1="187.75" x2="854.50" y2="192.12" stroke="#f23645" stroke-width="0.5"/>
<rect x="853.72" y="190.88" width="1.56" height="0.62" fill="#f23645"/>
<rect x="856.34" y="190.00" width="1.56" height="1.50" fill="#f23645"/>
<rect x="858.96" y="189.62" width="1.56" height="1.25" fill="#089981"/>
<rect x="861.58" y="184.25" width="1.56" height="5.38" fill="#089981"/>
<line x1="864.98" y1="178.00" x2="864.98" y2="189.00" stroke="#f23645" stroke-width="0.5"/>
<rect x="864.20" y="182.12" width="1.56" height="6.88" fill="#f23645"/>
<rect x="866.82" y="190.00" width="1.56" height="1.25" fill="#089981"/>
<rect x="869.44" y="190.88" width="1.56" height="1.62" fill="#f23645"/>
<rect x="872.05" y="192.12" width="1.56" height="3.75" fill="#f23645"/>
<rect x="874.67" y="195.25" width="1.56" height="6.25" fill="#f23645"/>
<rect x="877.29" y="199.25" width="1.56" height="2.25" fill="#f23645"/>
<line x1="880.69" y1="197.75" x2="880.69" y2="207.75" stroke="#089981" stroke-width="0.5"/>
<rect x="879.91" y="200.25" width="1.56" height="2.25" fill="#089981"/>
<rect x="882.53" y="199.25" width="1.56" height="2.88" fill="#089981"/>
<rect x="885.15" y="197.12" width="1.56" height="2.50" fill="#089981"/>
<rect x="887.77" y="197.12" width="1.56" height="3.12" fill="#f23645"/>
<rect x="890.39" y="198.38" width="1.56" height="3.75" fill="#089981"/>
<rect x="893.01" y="196.25" width="1.56" height="3.38" fill="#f23645"/>
<rect x="895.63" y="198.38" width="1.56" height="1.88" fill="#f23645"/>
<line x1="899.03" y1="199.25" x2="899.03" y2="209.62" stroke="#f23645" stroke-width="0.5"/>
<rect x="898.25" y="199.25" width="1.56" height="7.25" fill="#f23645"/>
<rect x="900.87" y="199.62" width="1.56" height="5.62" fill="#089981"/>
<rect x="903.49" y="199.62" width="1.56" height="1.88" fill="#f23645"/>
<rect x="906.11" y="196.50" width="1.56" height="5.62" fill="#089981"/>
<rect x="908.73" y="196.75" width="1.56" height="8.50" fill="#f23645"/>
<rect x="911.35" y="201.25" width="1.56" height="4.62" fill="#089981"/>
<line x1="914.75" y1="197.12" x2="914.75" y2="203.38" stroke="#f23645" stroke-width="0.5"/>
<rect x="913.97" y="197.12" width="1.56" height="4.38" fill="#f23645"/>
<rect x="916.59" y="200.00" width="1.56" height="0.88" fill="#089981"/>
<rect x="919.21" y="200.25" width="1.56" height="2.75" fill="#f23645"/>
<rect x="921.83" y="200.88" width="1.56" height="3.75" fill="#089981"/>
<rect x="924.45" y="198.00" width="1.56" height="3.25" fill="#089981"/>
<line x1="927.85" y1="189.62" x2="927.85" y2="199.62" stroke="#089981" stroke-width="0.5"/>
<rect x="927.07" y="192.12" width="1.56" height="5.62" fill="#089981"/>
<line x1="930.47" y1="190.88" x2="930.47" y2="197.75" stroke="#f23645" stroke-width="0.5"/>
<rect x="929.69" y="192.12" width="1.56" height="5.62" fill="#f23645"/>
<rect x="932.31" y="198.75" width="1.56" height="3.38" fill="#f23645"/>
<rect x="934.93" y="200.25" width="1.56" height="4.38" fill="#089981"/>
<rect x="937.55" y="207.12" width="1.56" height="12.50" fill="#f23645"/>
<rect x="940.17" y="219.62" width="1.56" height="6.25" fill="#f23645"/>
<line x1="943.57" y1="225.88" x2="943.57" y2="239.62" stroke="#f23645" stroke-width="0.5"/>
<rect x="942.79" y="225.88" width="1.56" height="10.00" fill="#f23645"/>
<line x1="946.19" y1="233.38" x2="946.19" y2="241.75" stroke="#f23645" stroke-width="0.5"/>
<rect x="945.41" y="233.38" width="1.56" height="4.38" fill="#f23645"/>
<line x1="948.81" y1="218.00" x2="948.81" y2="238.38" stroke="#089981" stroke-width="0.5"/>
<rect x="948.03" y="232.75" width="1.56" height="5.00" fill="#089981"/>
<path d="M118.90 303.2 L123.50 300.2 L128.10 303.2 L128.10 309.09999999999997 Q128.10 309.9 127.30 309.9 L119.70 309.9 Q118.90 309.9 118.90 309.09999999999997 Z" fill="#fff" stroke="#1e9e89" stroke-width="1.1" stroke-linejoin="round"/>
<text x="123.50" y="308.00" font-size="6.5" fill="#1e9e89" stroke="#1e9e89" stroke-width="0.25" text-anchor="middle">E</text>
<path d="M273.40 303.2 L278.00 300.2 L282.60 303.2 L282.60 309.09999999999997 Q282.60 309.9 281.80 309.9 L274.20 309.9 Q273.40 309.9 273.40 309.09999999999997 Z" fill="#fff" stroke="#1e9e89" stroke-width="1.1" stroke-linejoin="round"/>
<text x="278.00" y="308.00" font-size="6.5" fill="#1e9e89" stroke="#1e9e89" stroke-width="0.25" text-anchor="middle">E</text>
<path d="M603.50 303.2 L608.10 300.2 L612.70 303.2 L612.70 309.09999999999997 Q612.70 309.9 611.90 309.9 L604.30 309.9 Q603.50 309.9 603.50 309.09999999999997 Z" fill="#fff" stroke="#1e9e89" stroke-width="1.1" stroke-linejoin="round"/>
<text x="608.10" y="308.00" font-size="6.5" fill="#1e9e89" stroke="#1e9e89" stroke-width="0.25" text-anchor="middle">E</text>
<path d="M766.00 303.2 L770.60 300.2 L775.20 303.2 L775.20 309.09999999999997 Q775.20 309.9 774.40 309.9 L766.80 309.9 Q766.00 309.9 766.00 309.09999999999997 Z" fill="#fff" stroke="#1e9e89" stroke-width="1.1" stroke-linejoin="round"/>
<text x="770.60" y="308.00" font-size="6.5" fill="#1e9e89" stroke="#1e9e89" stroke-width="0.25" text-anchor="middle">E</text>
<path d="M931.30 303.2 L935.90 300.2 L940.50 303.2 L940.50 309.09999999999997 Q940.50 309.9 939.70 309.9 L932.10 309.9 Q931.30 309.9 931.30 309.09999999999997 Z" fill="#fff" stroke="#1e9e89" stroke-width="1.1" stroke-linejoin="round"/>
<text x="935.90" y="308.00" font-size="6.5" fill="#1e9e89" stroke="#1e9e89" stroke-width="0.25" text-anchor="middle">E</text>
<path d="M454.40 307.3 L459.00 310.5 L463.60 307.3 L463.60 301.3 Q463.60 300.5 462.80 300.5 L455.20 300.5 Q454.40 300.5 454.40 301.3 Z" fill="#fff" stroke="#f23645" stroke-width="1.1" stroke-linejoin="round"/>
<text x="459.00" y="307.60" font-size="6.5" fill="#f23645" stroke="#f23645" stroke-width="0.25" text-anchor="middle">E</text>
<circle cx="948.6" cy="305.3" r="4.85" fill="#fff" stroke="#ab47bc" stroke-width="1.1"/>
<path d="M949.5 302.2 L946.6 305.9 L948.5 305.9 L947.7 308.5 L950.7 304.7 L948.8 304.7 Z" fill="#ab47bc"/>
<text x="9.00" y="22.80" font-size="5.9" fill="#2a2e39" stroke="#2a2e39" stroke-width="0.12" textLength="25.75" lengthAdjust="spacingAndGlyphs" transform="rotate(0.04 9.00 22.80)">Brainbees</text>
<text x="36.90" y="22.80" font-size="5.9" fill="#2a2e39" stroke="#2a2e39" stroke-width="0.12" textLength="24.00" lengthAdjust="spacingAndGlyphs" transform="rotate(0.04 36.90 22.80)">Solutions</text>
<text x="62.90" y="22.80" font-size="5.9" fill="#2a2e39" stroke="#2a2e39" stroke-width="0.12" textLength="20.00" lengthAdjust="spacingAndGlyphs" transform="rotate(0.04 62.90 22.80)">Limited</text>
<text x="85.60" y="22.80" font-size="5.9" fill="#2a2e39" stroke="#2a2e39" stroke-width="0.12" textLength="1.40" lengthAdjust="spacingAndGlyphs" transform="rotate(0.04 85.60 22.80)">·</text>
<text x="89.60" y="22.80" font-size="5.9" fill="#2a2e39" stroke="#2a2e39" stroke-width="0.12" textLength="6.40" lengthAdjust="spacingAndGlyphs" transform="rotate(0.04 89.60 22.80)">1D</text>
<text x="98.40" y="22.80" font-size="5.9" fill="#2a2e39" stroke="#2a2e39" stroke-width="0.12" textLength="1.40" lengthAdjust="spacingAndGlyphs" transform="rotate(0.04 98.40 22.80)">·</text>
<text x="101.90" y="22.80" font-size="5.9" fill="#2a2e39" stroke="#2a2e39" stroke-width="0.12" textLength="8.70" lengthAdjust="spacingAndGlyphs" transform="rotate(0.04 101.90 22.80)">NSE</text>
<text x="115.60" y="22.80" font-size="5.9" fill="#2a2e39" stroke="#2a2e39" stroke-width="0.12" textLength="3.40" lengthAdjust="spacingAndGlyphs" transform="rotate(0.04 115.60 22.80)">O</text>
<text x="141.00" y="22.80" font-size="5.9" fill="#2a2e39" stroke="#2a2e39" stroke-width="0.12" textLength="3.50" lengthAdjust="spacingAndGlyphs" transform="rotate(0.04 141.00 22.80)">H</text>
<text x="166.90" y="22.80" font-size="5.9" fill="#2a2e39" stroke="#2a2e39" stroke-width="0.12" textLength="2.70" lengthAdjust="spacingAndGlyphs" transform="rotate(0.04 166.90 22.80)">L</text>
<text x="191.25" y="22.80" font-size="5.9" fill="#2a2e39" stroke="#2a2e39" stroke-width="0.12" textLength="3.75" lengthAdjust="spacingAndGlyphs" transform="rotate(0.04 191.25 22.80)">C</text>
<text x="119.75" y="22.80" font-size="5.9" fill="#089981" stroke="#089981" stroke-width="0.12" textLength="17.50" lengthAdjust="spacingAndGlyphs" transform="rotate(0.04 119.75 22.80)">213.65</text>
<text x="145.40" y="22.80" font-size="5.9" fill="#089981" stroke="#089981" stroke-width="0.12" textLength="17.50" lengthAdjust="spacingAndGlyphs" transform="rotate(0.04 145.40 22.80)">241.55</text>
<text x="170.00" y="22.80" font-size="5.9" fill="#089981" stroke="#089981" stroke-width="0.12" textLength="17.50" lengthAdjust="spacingAndGlyphs" transform="rotate(0.04 170.00 22.80)">212.00</text>
<text x="195.40" y="22.80" font-size="5.9" fill="#089981" stroke="#089981" stroke-width="0.12" textLength="17.50" lengthAdjust="spacingAndGlyphs" transform="rotate(0.04 195.40 22.80)">219.35</text>
<text x="216.60" y="22.80" font-size="5.9" fill="#089981" stroke="#089981" stroke-width="0.12" textLength="14.15" lengthAdjust="spacingAndGlyphs" transform="rotate(0.04 216.60 22.80)">+5.60</text>
<text x="232.90" y="22.80" font-size="5.9" fill="#089981" stroke="#089981" stroke-width="0.12" textLength="22.60" lengthAdjust="spacingAndGlyphs" transform="rotate(0.04 232.90 22.80)">(+2.62%)</text>
<text x="9.00" y="31.10" font-size="5.5" fill="#2a2e39" stroke="#2a2e39" stroke-width="0.12" textLength="7.90" lengthAdjust="spacingAndGlyphs" transform="rotate(0.04 9.00 31.10)">Vol</text>
<text x="20.60" y="31.10" font-size="5.5" fill="#089981" stroke="#089981" stroke-width="0.12" textLength="20.40" lengthAdjust="spacingAndGlyphs" transform="rotate(0.04 20.60 31.10)">47.81M</text>
<text x="9.00" y="338.60" font-size="5.9" fill="#2a2e39" stroke="#2a2e39" stroke-width="0.12" textLength="37.90" lengthAdjust="spacingAndGlyphs" transform="rotate(0.04 9.00 338.60)">RSI (14, close)</text>
<text x="50.60" y="338.60" font-size="5.9" fill="#9575cd" stroke="#9575cd" stroke-width="0.12" textLength="14.40" lengthAdjust="spacingAndGlyphs" transform="rotate(0.04 50.60 338.60)">28.71</text>
<text x="69.00" y="338.60" font-size="5.9" fill="#f5d35c" stroke="#f5d35c" stroke-width="0.12" textLength="14.50" lengthAdjust="spacingAndGlyphs" transform="rotate(0.04 69.00 338.60)">39.91</text>
<g clip-path="url(#cpFrame)">
<text x="994.50" y="17.05" font-size="5.8" fill="#2a2e39" stroke="#2a2e39" stroke-width="0.12" textLength="17.90" lengthAdjust="spacingAndGlyphs" transform="rotate(0.04 994.50 17.05)">880.00</text>
<text x="994.50" y="40.10" font-size="5.8" fill="#2a2e39" stroke="#2a2e39" stroke-width="0.12" textLength="17.90" lengthAdjust="spacingAndGlyphs" transform="rotate(0.04 994.50 40.10)">760.00</text>
<text x="994.50" y="57.59" font-size="5.8" fill="#2a2e39" stroke="#2a2e39" stroke-width="0.12" textLength="17.90" lengthAdjust="spacingAndGlyphs" transform="rotate(0.04 994.50 57.59)">680.00</text>
<text x="994.50" y="77.27" font-size="5.8" fill="#2a2e39" stroke="#2a2e39" stroke-width="0.12" textLength="17.90" lengthAdjust="spacingAndGlyphs" transform="rotate(0.04 994.50 77.27)">600.00</text>
<text x="994.50" y="98.27" font-size="5.8" fill="#2a2e39" stroke="#2a2e39" stroke-width="0.12" textLength="17.90" lengthAdjust="spacingAndGlyphs" transform="rotate(0.04 994.50 98.27)">525.00</text>
<text x="994.50" y="117.35" font-size="5.8" fill="#2a2e39" stroke="#2a2e39" stroke-width="0.12" textLength="17.90" lengthAdjust="spacingAndGlyphs" transform="rotate(0.04 994.50 117.35)">465.00</text>
<text x="994.50" y="139.07" font-size="5.8" fill="#2a2e39" stroke="#2a2e39" stroke-width="0.12" textLength="17.90" lengthAdjust="spacingAndGlyphs" transform="rotate(0.04 994.50 139.07)">405.00</text>
<text x="994.50" y="155.42" font-size="5.8" fill="#2a2e39" stroke="#2a2e39" stroke-width="0.12" textLength="17.90" lengthAdjust="spacingAndGlyphs" transform="rotate(0.04 994.50 155.42)">365.00</text>
<text x="994.50" y="173.67" font-size="5.8" fill="#2a2e39" stroke="#2a2e39" stroke-width="0.12" textLength="17.90" lengthAdjust="spacingAndGlyphs" transform="rotate(0.04 994.50 173.67)">325.00</text>
<text x="994.50" y="188.90" font-size="5.8" fill="#2a2e39" stroke="#2a2e39" stroke-width="0.12" textLength="17.90" lengthAdjust="spacingAndGlyphs" transform="rotate(0.04 994.50 188.90)">295.00</text>
<text x="994.50" y="205.77" font-size="5.8" fill="#2a2e39" stroke="#2a2e39" stroke-width="0.12" textLength="17.90" lengthAdjust="spacingAndGlyphs" transform="rotate(0.04 994.50 205.77)">265.00</text>
<text x="994.50" y="224.66" font-size="5.8" fill="#2a2e39" stroke="#2a2e39" stroke-width="0.12" textLength="17.90" lengthAdjust="spacingAndGlyphs" transform="rotate(0.04 994.50 224.66)">235.00</text>
<text x="994.50" y="262.27" font-size="5.8" fill="#2a2e39" stroke="#2a2e39" stroke-width="0.12" textLength="17.90" lengthAdjust="spacingAndGlyphs" transform="rotate(0.04 994.50 262.27)">185.00</text>
<text x="994.50" y="280.26" font-size="5.8" fill="#2a2e39" stroke="#2a2e39" stroke-width="0.12" textLength="17.90" lengthAdjust="spacingAndGlyphs" transform="rotate(0.04 994.50 280.26)">165.00</text>
<text x="994.50" y="296.30" font-size="5.8" fill="#2a2e39" stroke="#2a2e39" stroke-width="0.12" textLength="17.90" lengthAdjust="spacingAndGlyphs" transform="rotate(0.04 994.50 296.30)">149.00</text>
<text x="994.50" y="311.82" font-size="5.8" fill="#2a2e39" stroke="#2a2e39" stroke-width="0.12" textLength="17.90" lengthAdjust="spacingAndGlyphs" transform="rotate(0.04 994.50 311.82)">135.00</text>
</g>
<text x="994.60" y="345.25" font-size="5.8" fill="#2a2e39" stroke="#2a2e39" stroke-width="0.12" textLength="14.40" lengthAdjust="spacingAndGlyphs" transform="rotate(0.04 994.60 345.25)">70.00</text>
<text x="994.60" y="366.23" font-size="5.8" fill="#2a2e39" stroke="#2a2e39" stroke-width="0.12" textLength="14.40" lengthAdjust="spacingAndGlyphs" transform="rotate(0.04 994.60 366.23)">60.00</text>
<text x="994.60" y="387.20" font-size="5.8" fill="#2a2e39" stroke="#2a2e39" stroke-width="0.12" textLength="14.40" lengthAdjust="spacingAndGlyphs" transform="rotate(0.04 994.60 387.20)">50.00</text>
<text x="994.60" y="450.12" font-size="5.8" fill="#2a2e39" stroke="#2a2e39" stroke-width="0.12" textLength="14.40" lengthAdjust="spacingAndGlyphs" transform="rotate(0.04 994.60 450.12)">20.00</text>
<text x="994.60" y="429.15" font-size="5.8" fill="#2a2e39" stroke="#2a2e39" stroke-width="0.12" textLength="14.40" lengthAdjust="spacingAndGlyphs" transform="rotate(0.04 994.60 429.15)">30.00</text>
<rect x="961" y="229.2" width="28.90" height="8.40" rx="0.6" fill="#089981"/>
<rect x="990.9" y="229.2" width="24.00" height="8.40" rx="0.6" fill="#089981"/>
<text x="963.20" y="235.70" font-size="6.0" fill="#fff" stroke="#fff" stroke-width="0.12" textLength="24.60" lengthAdjust="spacingAndGlyphs" transform="rotate(0.04 963.20 235.70)">FIRSTCRY</text>
<text x="994.60" y="235.70" font-size="6.0" fill="#fff" stroke="#fff" stroke-width="0.12" textLength="17.80" lengthAdjust="spacingAndGlyphs" transform="rotate(0.04 994.60 235.70)">219.35</text>
<rect x="974.8" y="237.6" width="15.10" height="8.20" rx="0.6" fill="#2962ff"/>
<rect x="990.9" y="237.6" width="24.00" height="8.20" rx="0.6" fill="#2962ff"/>
<text x="977.00" y="243.90" font-size="6.0" fill="#fff" stroke="#fff" stroke-width="0.12" textLength="10.90" lengthAdjust="spacingAndGlyphs" transform="rotate(0.04 977.00 243.90)">Post</text>
<text x="994.60" y="243.90" font-size="6.0" fill="#fff" stroke="#fff" stroke-width="0.12" textLength="17.80" lengthAdjust="spacingAndGlyphs" transform="rotate(0.04 994.60 243.90)">217.40</text>
<rect x="990.9" y="246.3" width="26.00" height="8.40" rx="0.6" fill="#0f9d86"/>
<text x="994.50" y="252.60" font-size="6.0" fill="#fff" stroke="#fff" stroke-width="0.12" textLength="20.40" lengthAdjust="spacingAndGlyphs" transform="rotate(0.04 994.50 252.60)">47.81M</text>
<line x1="5.0" y1="343.35" x2="990.0" y2="343.35" stroke="#9a9da6" stroke-width="0.55" stroke-dasharray="3 2.6"/>
<line x1="5.0" y1="385.30" x2="990.0" y2="385.30" stroke="#a4a7b0" stroke-width="0.55" stroke-dasharray="3 2.6"/>
<line x1="5.0" y1="427.25" x2="990.0" y2="427.25" stroke="#9a9da6" stroke-width="0.55" stroke-dasharray="3 2.6"/>
<path d="M5.10 427.25 L8.33 427.25 L10.95 427.25 L13.57 427.25 L16.19 427.25 L18.81 427.25 L21.43 427.25 L24.05 427.25 L26.67 427.25 L29.29 427.25 L31.91 427.25 L34.53 427.25 L37.15 427.25 L39.77 427.25 L42.39 427.25 L45.01 427.25 L47.63 427.25 L50.25 427.25 L52.87 427.25 L55.49 427.25 L58.11 427.25 L60.73 427.25 L63.35 427.25 L65.97 427.25 L68.59 427.25 L71.21 427.25 L73.83 427.25 L76.45 427.25 L79.07 427.25 L81.69 427.25 L84.30 427.25 L86.92 427.25 L89.54 427.25 L92.16 427.25 L94.78 427.25 L97.40 427.25 L100.02 427.25 L102.64 427.25 L105.26 427.25 L107.88 427.25 L110.50 427.25 L113.12 427.25 L115.74 427.25 L118.36 427.25 L120.98 427.25 L123.60 427.25 L126.22 427.25 L128.84 427.25 L131.46 427.25 L134.08 427.25 L136.70 427.25 L139.32 427.25 L141.94 427.25 L144.56 427.25 L147.18 427.25 L149.80 427.25 L152.42 427.25 L155.04 427.25 L157.66 427.25 L160.28 427.25 L162.90 427.25 L165.52 427.25 L168.14 427.25 L170.76 427.25 L173.37 427.25 L175.99 427.25 L178.61 427.25 L181.23 427.25 L183.85 427.25 L186.47 427.25 L189.09 427.25 L191.71 427.25 L194.33 427.25 L196.95 427.25 L199.57 427.25 L202.19 427.25 L204.81 427.25 L207.43 427.25 L210.05 427.25 L212.67 427.25 L215.29 427.25 L217.91 427.25 L220.53 427.25 L223.15 427.25 L225.77 430.50 L228.39 431.68 L231.01 434.71 L233.63 428.82 L236.25 429.66 L238.87 433.02 L241.49 437.23 L244.11 441.10 L246.73 427.25 L249.35 427.25 L251.97 427.25 L254.59 429.32 L257.21 427.25 L259.82 427.25 L262.44 427.25 L265.06 427.25 L267.68 427.25 L270.30 427.25 L272.92 427.25 L275.54 427.25 L278.16 427.25 L280.78 427.25 L283.40 427.25 L286.02 427.25 L288.64 427.25 L291.26 427.98 L293.88 433.36 L296.50 436.73 L299.12 427.25 L301.74 427.25 L304.36 427.25 L306.98 427.25 L309.60 427.25 L312.22 427.25 L314.84 427.25 L317.46 427.25 L320.08 427.64 L322.70 427.25 L325.32 427.25 L327.94 427.25 L330.56 427.25 L333.18 427.25 L335.80 427.25 L338.42 427.25 L341.04 427.25 L343.66 427.25 L346.27 427.25 L348.89 427.25 L351.51 427.25 L354.13 427.25 L356.75 427.25 L359.37 427.25 L361.99 427.25 L364.61 427.25 L367.23 427.25 L369.85 427.25 L372.47 427.25 L375.09 427.25 L377.71 427.25 L380.33 427.25 L382.95 427.25 L385.57 427.25 L388.19 427.25 L390.81 427.25 L393.43 427.25 L396.05 427.25 L398.67 427.25 L401.29 427.25 L403.91 427.25 L406.53 427.25 L409.15 427.25 L411.77 427.25 L414.39 427.25 L417.01 427.25 L419.63 427.25 L422.25 427.25 L424.87 427.25 L427.49 427.25 L430.11 427.25 L432.73 427.25 L435.34 427.25 L437.96 427.25 L440.58 427.25 L443.20 427.25 L445.82 427.25 L448.44 427.25 L451.06 427.25 L453.68 427.25 L456.30 427.25 L458.92 427.25 L461.54 427.25 L464.16 427.25 L466.78 427.25 L469.40 427.25 L472.02 427.25 L474.64 427.25 L477.26 427.25 L479.88 427.25 L482.50 427.25 L485.12 427.25 L487.74 427.25 L490.36 427.25 L492.98 427.25 L495.60 427.25 L498.22 427.25 L500.84 427.25 L503.46 427.25 L506.08 427.25 L508.70 427.25 L511.32 427.25 L513.94 427.25 L516.56 427.25 L519.18 427.25 L521.79 427.25 L524.41 427.25 L527.03 427.25 L529.65 427.25 L532.27 427.25 L534.89 427.25 L537.51 427.25 L540.13 427.25 L542.75 427.25 L545.37 427.25 L547.99 427.25 L550.61 427.25 L553.23 427.25 L555.85 427.25 L558.47 427.25 L561.09 427.25 L563.71 427.25 L566.33 427.25 L568.95 427.25 L571.57 427.25 L574.19 427.25 L576.81 427.25 L579.43 427.25 L582.05 427.25 L584.67 427.25 L587.29 427.25 L589.91 427.25 L592.53 427.25 L595.15 427.25 L597.77 427.25 L600.39 427.25 L603.01 427.25 L605.63 427.25 L608.25 427.25 L610.86 427.25 L613.48 427.25 L616.10 427.25 L618.72 427.25 L621.34 427.25 L623.96 427.25 L626.58 427.25 L629.20 427.25 L631.82 427.25 L634.44 427.25 L637.06 427.25 L639.68 427.25 L642.30 427.25 L644.92 427.25 L647.54 427.25 L650.16 427.25 L652.78 427.25 L655.40 427.25 L658.02 427.25 L660.64 427.25 L663.26 427.25 L665.88 427.25 L668.50 427.25 L671.12 427.25 L673.74 427.25 L676.36 427.25 L678.98 427.25 L681.60 427.25 L684.22 427.25 L686.84 427.25 L689.46 427.25 L692.08 427.25 L694.70 427.25 L697.31 427.25 L699.93 427.25 L702.55 427.25 L705.17 427.25 L707.79 427.25 L710.41 427.25 L713.03 427.25 L715.65 427.25 L718.27 427.25 L720.89 427.25 L723.51 427.25 L726.13 427.25 L728.75 427.25 L731.37 427.25 L733.99 427.25 L736.61 427.25 L739.23 427.25 L741.85 427.25 L744.47 427.25 L747.09 427.25 L749.71 427.25 L752.33 427.25 L754.95 427.25 L757.57 428.82 L760.19 430.00 L762.81 431.68 L765.43 427.25 L768.05 427.25 L770.67 427.25 L773.29 427.25 L775.91 431.68 L778.53 435.55 L781.15 437.74 L783.76 441.78 L786.38 446.15 L789.00 448.51 L791.62 427.25 L794.24 436.39 L796.86 439.42 L799.48 441.44 L802.10 441.44 L804.72 439.42 L807.34 443.12 L809.96 449.01 L812.58 455.24 L815.20 429.32 L817.82 435.04 L820.44 427.25 L823.06 427.25 L825.68 427.25 L828.30 427.25 L830.92 427.25 L833.54 427.25 L836.16 427.25 L838.78 427.25 L841.40 427.25 L844.02 427.25 L846.64 427.25 L849.26 427.25 L851.88 427.25 L854.50 427.25 L857.12 427.25 L859.74 427.25 L862.36 427.25 L864.98 427.25 L867.60 427.25 L870.22 427.25 L872.83 427.25 L875.45 427.25 L878.07 427.25 L880.69 427.25 L883.31 427.25 L885.93 427.25 L888.55 427.25 L891.17 427.25 L893.79 427.25 L896.41 427.25 L899.03 427.25 L901.65 427.25 L904.27 427.25 L906.89 427.25 L909.51 427.25 L912.13 427.25 L914.75 427.25 L917.37 427.25 L919.99 427.25 L922.61 427.25 L925.23 427.25 L927.85 427.25 L930.47 427.25 L933.09 427.25 L935.71 427.25 L938.33 427.25 L940.95 427.98 L943.57 435.55 L946.19 438.07 L948.81 429.66 L948.81 427.25 L5.10 427.25 Z" fill="url(#pinkg)"/>
<polyline points="24.05,401.70 26.67,398.50 29.29,395.50 31.91,393.00 34.53,390.80 37.15,388.90 39.77,388.09 42.39,387.25 45.01,386.80 47.63,386.72 50.25,387.44 52.87,387.16 55.49,387.01 58.11,385.68 60.73,384.24 63.35,381.84 65.97,379.91 68.59,378.86 71.21,378.05 73.83,376.07 76.45,375.83 79.07,376.85 81.69,378.53 84.30,379.55 86.92,379.85 89.54,381.13 92.16,379.64 94.78,380.84 97.40,383.12 100.02,386.27 102.64,389.98 105.26,392.38 107.88,394.22 110.50,396.38 113.12,398.37 115.74,400.05 118.36,401.36 120.98,403.40 123.60,404.88 126.22,405.09 128.84,407.73 131.46,408.73 134.08,409.59 136.70,410.71 139.32,410.29 141.94,409.31 144.56,407.91 147.18,405.87 149.80,403.61 152.42,400.18 155.04,396.91 157.66,394.12 160.28,391.23 162.90,389.60 165.52,388.36 168.14,386.97 170.76,384.78 173.37,383.28 175.99,381.78 178.61,381.26 181.23,380.76 183.85,380.96 186.47,379.67 189.09,379.77 191.71,379.29 194.33,377.93 196.95,376.70 199.57,376.20 202.19,374.52 204.81,373.39 207.43,372.45 210.05,371.07 212.67,372.21 215.29,373.23 217.91,375.75 220.53,378.14 223.15,381.93 225.77,385.63 228.39,389.93 231.01,394.69 233.63,398.97 236.25,402.49 238.87,407.37 241.49,412.51 244.11,418.01 246.73,421.62 249.35,424.04 251.97,426.36 254.59,428.15 257.21,428.25 259.82,427.62 262.44,426.01 265.06,423.09 267.68,421.09 270.30,419.16 272.92,417.23 275.54,415.41 278.16,414.44 280.78,413.25 283.40,413.54 286.02,413.66 288.64,413.70 291.26,413.60 293.88,414.85 296.50,416.83 299.12,417.78 301.74,418.85 304.36,419.21 306.98,420.29 309.60,421.40 312.22,422.46 314.84,422.37 317.46,422.14 320.08,422.49 322.70,422.67 325.32,420.02 327.94,417.90 330.56,416.18 333.18,413.99 335.80,412.65 338.42,412.52 341.04,412.20 343.66,411.24 346.27,410.11 348.89,409.14 351.51,408.15 354.13,406.55 356.75,404.76 359.37,403.85 361.99,403.69 364.61,403.61 367.23,402.74 369.85,402.04 372.47,401.62 375.09,401.62 377.71,402.61 380.33,403.73 382.95,405.13 385.57,405.40 388.19,405.07 390.81,405.55 393.43,405.01 396.05,403.17 398.67,402.85 401.29,401.85 403.91,401.40 406.53,401.73 409.15,402.25 411.77,402.39 414.39,400.77 417.01,399.65 419.63,398.41 422.25,398.17 424.87,398.29 427.49,398.29 430.11,399.38 432.73,398.90 435.34,399.14 437.96,399.53 440.58,398.81 443.20,396.83 445.82,395.11 448.44,393.67 451.06,392.14 453.68,390.06 456.30,387.05 458.92,383.63 461.54,382.03 464.16,380.35 466.78,378.54 469.40,379.00 472.02,379.69 474.64,378.24 477.26,377.82 479.88,376.56 482.50,374.22 485.12,371.93 487.74,370.99 490.36,370.85 492.98,371.85 495.60,373.01 498.22,372.65 500.84,372.62 503.46,372.62 506.08,373.64 508.70,374.55 511.32,377.40 513.94,380.01 516.56,383.62 519.18,384.72 521.79,385.68 524.41,386.23 527.03,386.56 529.65,386.72 532.27,386.91 534.89,387.63 537.51,387.69 540.13,387.39 542.75,385.35 545.37,383.27 547.99,380.92 550.61,378.11 553.23,376.16 555.85,377.16 558.47,377.86 561.09,378.64 563.71,379.65 566.33,380.73 568.95,381.93 571.57,382.86 574.19,384.33 576.81,386.07 579.43,388.56 582.05,391.08 584.67,394.09 587.29,396.64 589.91,397.00 592.53,397.87 595.15,399.04 597.77,398.92 600.39,398.27 603.01,397.03 605.63,395.11 608.25,392.92 610.86,391.12 613.48,389.23 616.10,386.86 618.72,383.10 621.34,378.56 623.96,375.37 626.58,374.49 629.20,373.86 631.82,374.66 634.44,375.68 637.06,377.05 639.68,378.32 642.30,379.88 644.92,382.28 647.54,380.79 650.16,378.95 652.78,377.27 655.40,378.03 658.02,379.33 660.64,379.87 663.26,379.47 665.88,378.83 668.50,376.82 671.12,375.42 673.74,373.53 676.36,373.07 678.98,372.08 681.60,370.42 684.22,372.85 686.84,376.57 689.46,380.46 692.08,382.68 694.70,384.27 697.31,385.77 699.93,387.81 702.55,388.75 705.17,389.80 707.79,390.68 710.41,391.61 713.03,392.13 715.65,394.09 718.27,395.39 720.89,395.89 723.51,395.32 726.13,394.81 728.75,394.63 731.37,395.59 733.99,396.25 736.61,397.55 739.23,399.69 741.85,400.72 744.47,402.44 747.09,404.36 749.71,405.72 752.33,406.29 754.95,407.74 757.57,409.95 760.19,412.29 762.81,414.67 765.43,415.73 768.05,415.81 770.67,417.17 773.29,418.04 775.91,419.30 778.53,421.44 781.15,423.29 783.76,425.23 786.38,427.52 789.00,430.02 791.62,430.56 794.24,431.10 796.86,431.77 799.48,432.47 802.10,434.37 804.72,436.53 807.34,438.19 809.96,439.91 812.58,441.60 815.20,441.15 817.82,440.96 820.44,439.71 823.06,437.75 825.68,435.92 828.30,435.08 830.92,433.57 833.54,430.67 836.16,427.72 838.78,425.16 841.40,421.80 844.02,418.49 846.64,415.87 849.26,412.77 851.88,411.40 854.50,409.54 857.12,408.35 859.74,406.90 862.36,403.94 864.98,402.43 867.60,401.35 870.22,401.83 872.83,402.79 875.45,404.14 878.07,406.44 880.69,408.28 883.31,408.49 885.93,408.28 888.55,408.58 891.17,408.61 893.79,408.75 896.41,409.77 899.03,412.96 901.65,413.50 904.27,413.90 906.89,412.86 909.51,412.50 912.13,410.80 914.75,408.85 917.37,406.85 919.99,405.93 922.61,404.97 925.23,402.90 927.85,400.35 930.47,398.67 933.09,397.44 935.71,395.10 938.33,396.49 940.95,398.09 943.57,401.26 946.19,403.37 948.81,405.45" fill="none" stroke="#f6d980" stroke-width="0.75" stroke-linejoin="round"/>
<polyline points="5.10,400.22 8.33,388.28 10.95,384.41 13.57,391.65 16.19,393.33 18.81,391.65 21.43,388.28 24.05,384.07 26.67,382.39 29.29,374.31 31.91,380.37 34.53,381.04 37.15,404.27 39.77,389.96 42.39,387.44 45.01,382.05 47.63,383.23 50.25,401.74 52.87,389.46 55.49,389.46 58.11,369.77 60.73,363.88 63.35,348.73 65.97,347.39 68.59,365.56 71.21,369.77 73.83,376.50 76.45,386.60 79.07,401.74 81.69,405.61 84.30,397.54 86.92,405.95 89.54,407.30 92.16,368.59 94.78,386.60 97.40,395.85 100.02,392.82 102.64,399.22 105.26,399.22 107.88,395.52 110.50,406.79 113.12,414.37 115.74,425.31 118.36,423.96 120.98,426.15 123.60,426.65 126.22,410.16 128.84,405.61 131.46,400.57 134.08,407.97 136.70,408.48 139.32,393.33 141.94,385.42 144.56,376.00 147.18,378.18 149.80,382.73 152.42,377.34 155.04,378.18 157.66,387.10 160.28,386.09 162.90,387.44 165.52,388.28 168.14,381.04 170.76,377.34 173.37,387.44 175.99,372.29 178.61,378.18 181.23,368.93 183.85,381.04 186.47,364.72 189.09,378.69 191.71,371.45 194.33,368.09 196.95,368.93 199.57,380.37 202.19,364.72 204.81,365.22 207.43,364.21 210.05,368.09 212.67,388.28 215.29,392.49 217.91,404.27 220.53,414.37 223.15,417.88 225.77,430.50 228.39,431.68 231.01,434.71 233.63,428.82 236.25,429.66 238.87,433.02 241.49,437.23 244.11,441.10 246.73,418.72 249.35,422.09 251.97,424.95 254.59,429.32 257.21,415.86 259.82,408.98 262.44,407.97 265.06,390.81 267.68,406.79 270.30,401.74 272.92,402.59 275.54,407.63 278.16,423.62 280.78,424.46 283.40,422.78 286.02,423.77 288.64,425.45 291.26,427.98 293.88,433.36 296.50,436.73 299.12,421.24 301.74,405.76 304.36,411.84 306.98,416.89 309.60,418.07 312.22,422.44 314.84,422.44 317.46,421.24 320.08,427.64 322.70,426.29 325.32,388.28 327.94,398.38 330.56,409.32 333.18,405.95 335.80,402.59 338.42,403.93 341.04,407.30 343.66,403.43 346.27,402.25 348.89,408.98 351.51,408.48 354.13,398.88 356.75,402.59 359.37,413.52 361.99,386.09 364.61,397.20 367.23,397.20 369.85,396.19 372.47,396.70 375.09,403.93 377.71,421.10 380.33,419.08 382.95,421.94 385.57,412.68 388.19,403.93 390.81,405.61 393.43,395.01 396.05,387.78 398.67,381.55 401.29,383.23 403.91,390.81 406.53,400.90 409.15,403.93 411.77,405.95 414.39,398.38 417.01,403.43 419.63,404.61 422.25,409.32 424.87,405.61 427.49,405.61 430.11,410.16 432.73,381.04 435.34,384.91 437.96,388.79 440.58,380.71 443.20,373.13 445.82,379.87 448.44,385.76 451.06,377.01 453.68,374.31 456.30,362.53 458.92,361.35 461.54,383.23 464.16,382.05 466.78,384.91 469.40,387.44 472.02,394.51 474.64,368.59 477.26,374.82 479.88,355.46 482.50,347.05 485.12,353.78 487.74,363.88 490.36,372.29 492.98,376.50 495.60,377.68 498.22,378.18 500.84,381.55 503.46,384.91 506.08,401.74 508.70,407.30 511.32,408.48 513.94,411.34 516.56,405.95 519.18,362.53 521.79,367.24 524.41,371.45 527.03,377.01 529.65,378.69 532.27,380.37 534.89,388.28 537.51,382.39 540.13,380.71 542.75,373.13 545.37,378.18 547.99,375.66 550.61,371.96 553.23,378.69 555.85,376.50 558.47,377.01 561.09,382.39 563.71,391.14 566.33,393.83 568.95,397.20 571.57,401.24 574.19,402.92 576.81,405.11 579.43,407.97 582.05,413.52 584.67,417.73 587.29,407.63 589.91,383.74 592.53,388.79 595.15,393.33 597.77,380.71 600.39,382.05 603.01,376.50 605.63,370.27 608.25,370.61 610.86,377.68 613.48,378.69 616.10,374.82 618.72,360.85 621.34,354.12 623.96,363.04 626.58,371.45 629.20,379.87 631.82,404.61 634.44,395.01 637.06,401.24 639.68,394.17 642.30,392.15 644.92,404.27 647.54,356.81 650.16,352.94 652.78,351.26 655.40,371.45 658.02,372.29 660.64,370.61 663.26,365.90 665.88,370.95 668.50,376.50 671.12,375.32 673.74,374.82 676.36,387.78 678.98,378.18 681.60,381.04 684.22,390.81 686.84,405.11 689.46,405.61 692.08,402.59 694.70,394.51 697.31,391.65 699.93,394.51 702.55,384.07 705.17,391.14 707.79,387.78 710.41,387.78 713.03,395.01 715.65,405.61 718.27,399.22 720.89,397.87 723.51,397.20 726.13,398.38 728.75,400.06 731.37,407.97 733.99,400.90 736.61,412.68 739.23,414.03 741.85,405.61 744.47,411.84 747.09,414.70 749.71,414.03 752.33,413.52 754.95,419.56 757.57,428.82 760.19,430.00 762.81,431.68 765.43,414.85 768.05,409.13 770.67,419.90 773.29,424.95 775.91,431.68 778.53,435.55 781.15,437.74 783.76,441.78 786.38,446.15 789.00,448.51 791.62,427.13 794.24,436.39 796.86,439.42 799.48,441.44 802.10,441.44 804.72,439.42 807.34,443.12 809.96,449.01 812.58,455.24 815.20,429.32 817.82,435.04 820.44,424.27 823.06,418.72 825.68,422.93 828.30,415.35 830.92,415.21 833.54,398.88 836.16,400.06 838.78,405.61 841.40,392.49 844.02,396.70 846.64,412.35 849.26,411.84 851.88,410.16 854.50,408.98 857.12,407.63 859.74,398.38 862.36,381.55 864.98,394.17 867.60,400.06 870.22,405.61 872.83,413.52 875.45,424.46 878.07,424.80 880.69,422.44 883.31,415.21 885.93,408.98 888.55,414.37 891.17,409.32 893.79,409.65 896.41,412.68 899.03,426.15 901.65,401.74 904.27,405.61 906.89,391.14 909.51,408.48 912.13,400.57 914.75,397.54 917.37,394.51 919.99,402.25 922.61,395.52 925.23,385.42 927.85,373.64 930.47,386.09 933.09,395.52 935.71,393.33 938.33,421.24 940.95,427.98 943.57,435.55 946.19,438.07 948.81,429.66" fill="none" stroke="#a98fdb" stroke-width="0.7" stroke-linejoin="round"/>
<circle cx="941.25" cy="426.3" r="28.6" fill="#4caf50" fill-opacity="0.18" stroke="#1c1c1c" stroke-width="1"/>
<path d="M984.7 355.4 L965.4 392.6 L959.2 390.3 L961.7 406.6 L976.3 397.3 L971.3 395.3 L985.6 355.8 Z" fill="#5fb06c"/>
<g clip-path="url(#cpPlot)">
<rect x="966.3" y="336.3" width="30" height="19.3" fill="#a3d7a7" stroke="#1f2a1f" stroke-width="0.7"/>
</g>
<text x="970.70" y="350.50" font-size="12.9" fill="#111" stroke="#111" stroke-width="0.25" textLength="16.70" lengthAdjust="spacingAndGlyphs" transform="rotate(0.04 970.70 350.50)">RSI</text>
<rect x="990.7" y="402.5" width="21.30" height="8.40" rx="0.5" fill="#fdd835"/>
<text x="994.60" y="408.80" font-size="6.0" fill="#3a3a3a" stroke="#3a3a3a" stroke-width="0.12" textLength="14.40" lengthAdjust="spacingAndGlyphs" transform="rotate(0.04 994.60 408.80)">39.91</text>
<rect x="990.7" y="426.3" width="21.30" height="8.00" rx="0.5" fill="#7e57c2"/>
<text x="994.60" y="432.40" font-size="6.0" fill="#fff" stroke="#fff" stroke-width="0.12" font-weight="bold" textLength="14.40" lengthAdjust="spacingAndGlyphs" transform="rotate(0.04 994.60 432.40)">28.71</text>
<text x="42.39" y="475.90" font-size="5.9" fill="#434651" stroke="#434651" stroke-width="0.12" text-anchor="middle" transform="rotate(0.04 42.39 475.90)">Oct</text>
<text x="100.02" y="475.90" font-size="5.9" fill="#434651" stroke="#434651" stroke-width="0.12" text-anchor="middle" transform="rotate(0.04 100.02 475.90)">Nov</text>
<text x="149.80" y="475.90" font-size="5.9" fill="#434651" stroke="#434651" stroke-width="0.12" text-anchor="middle" transform="rotate(0.04 149.80 475.90)">Dec</text>
<text x="204.81" y="475.90" font-size="5.9" fill="#1e222d" stroke="#1e222d" stroke-width="0.12" text-anchor="middle" font-weight="bold" textLength="13.80" lengthAdjust="spacingAndGlyphs" transform="rotate(0.04 204.81 475.90)">2025</text>
<text x="265.06" y="475.90" font-size="5.9" fill="#434651" stroke="#434651" stroke-width="0.12" text-anchor="middle" transform="rotate(0.04 265.06 475.90)">Feb</text>
<text x="317.46" y="475.90" font-size="5.9" fill="#434651" stroke="#434651" stroke-width="0.12" text-anchor="middle" transform="rotate(0.04 317.46 475.90)">Mar</text>
<text x="367.23" y="475.90" font-size="5.9" fill="#434651" stroke="#434651" stroke-width="0.12" text-anchor="middle" transform="rotate(0.04 367.23 475.90)">Apr</text>
<text x="417.01" y="475.90" font-size="5.9" fill="#434651" stroke="#434651" stroke-width="0.12" text-anchor="middle" transform="rotate(0.04 417.01 475.90)">May</text>
<text x="472.02" y="475.90" font-size="5.9" fill="#434651" stroke="#434651" stroke-width="0.12" text-anchor="middle" transform="rotate(0.04 472.02 475.90)">Jun</text>
<text x="527.03" y="475.90" font-size="5.9" fill="#434651" stroke="#434651" stroke-width="0.12" text-anchor="middle" transform="rotate(0.04 527.03 475.90)">Jul</text>
<text x="587.29" y="475.90" font-size="5.9" fill="#434651" stroke="#434651" stroke-width="0.12" text-anchor="middle" transform="rotate(0.04 587.29 475.90)">Aug</text>
<text x="637.06" y="475.90" font-size="5.9" fill="#434651" stroke="#434651" stroke-width="0.12" text-anchor="middle" transform="rotate(0.04 637.06 475.90)">Sep</text>
<text x="694.70" y="475.90" font-size="5.9" fill="#434651" stroke="#434651" stroke-width="0.12" text-anchor="middle" transform="rotate(0.04 694.70 475.90)">Oct</text>
<text x="749.71" y="475.90" font-size="5.9" fill="#434651" stroke="#434651" stroke-width="0.12" text-anchor="middle" transform="rotate(0.04 749.71 475.90)">Nov</text>
<text x="799.48" y="475.90" font-size="5.9" fill="#434651" stroke="#434651" stroke-width="0.12" text-anchor="middle" transform="rotate(0.04 799.48 475.90)">Dec</text>
<text x="857.12" y="475.90" font-size="5.9" fill="#1e222d" stroke="#1e222d" stroke-width="0.12" text-anchor="middle" font-weight="bold" textLength="13.80" lengthAdjust="spacingAndGlyphs" transform="rotate(0.04 857.12 475.90)">2026</text>
<text x="909.51" y="475.90" font-size="5.9" fill="#434651" stroke="#434651" stroke-width="0.12" text-anchor="middle" transform="rotate(0.04 909.51 475.90)">Feb</text>
<text x="964.52" y="475.90" font-size="5.9" fill="#434651" stroke="#434651" stroke-width="0.12" text-anchor="middle" transform="rotate(0.04 964.52 475.90)">Mar</text>
<g fill="#131722">
<path d="M6.1 492.1 H12.2 V499.3 H8.9 V495.6 H6.1 Z"/>
<circle cx="14.1" cy="493.8" r="1.45"/>
<path d="M16.6 492.1 H20.8 L18.1 499.3 H14.3 Z"/>
</g>
<text x="24.60" y="499.30" font-size="9.6" fill="#131722" stroke="#131722" stroke-width="0.38" textLength="60.20" lengthAdjust="spacingAndGlyphs" transform="rotate(0.04 24.60 499.30)">TradingView</text>
</svg>
</body></html>
